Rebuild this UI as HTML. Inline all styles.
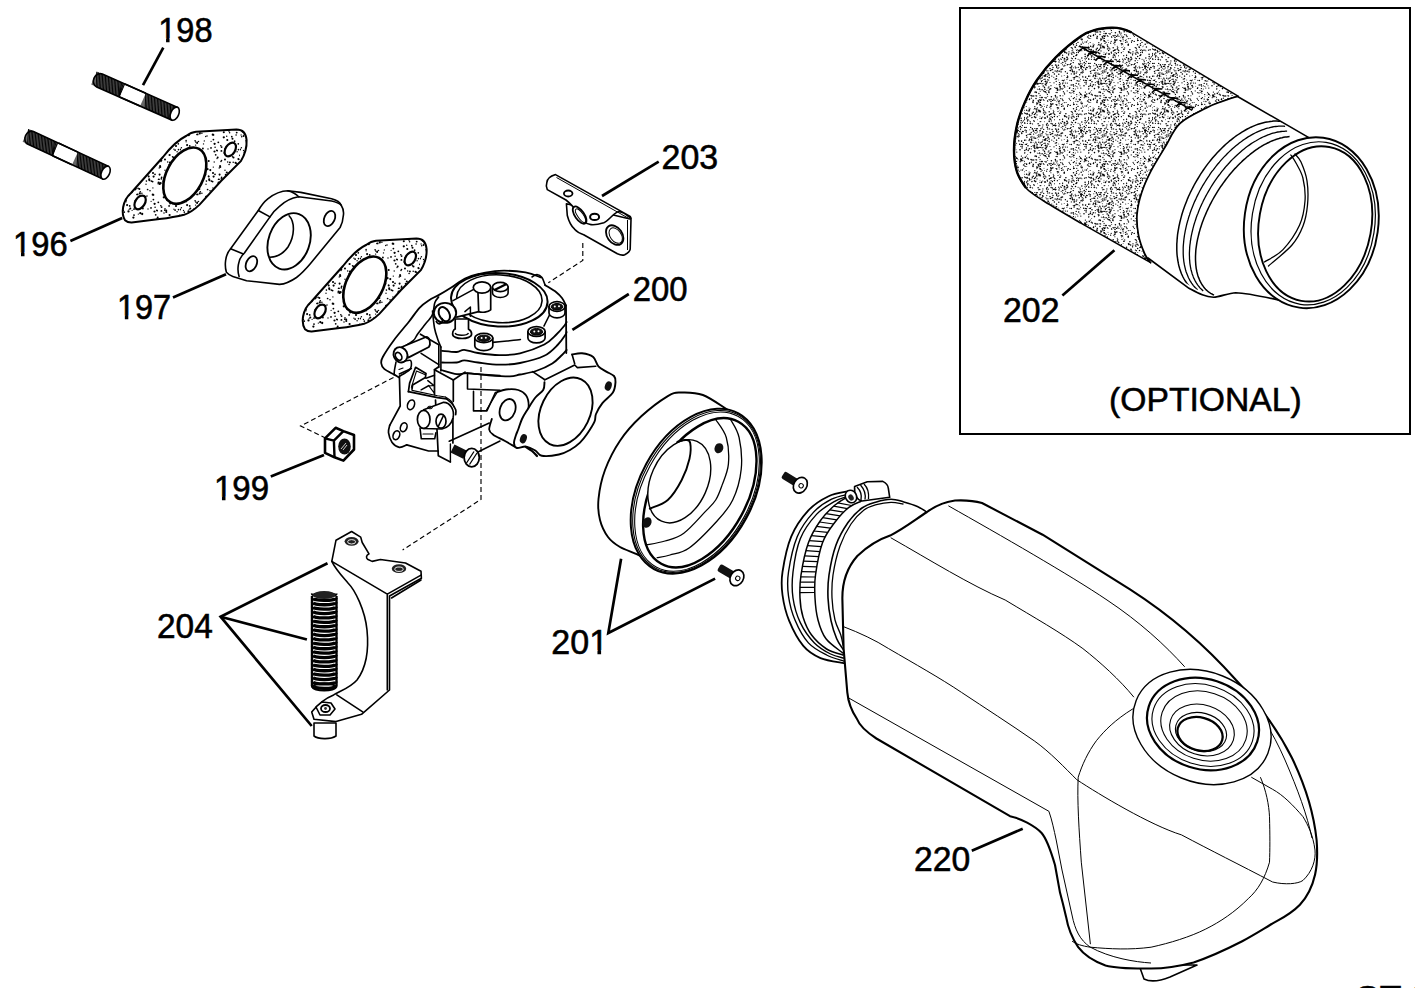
<!DOCTYPE html>
<html><head><meta charset="utf-8"><style>
html,body{margin:0;padding:0;background:#fff;width:1415px;height:988px;overflow:hidden}
svg{position:absolute;left:0;top:0}
.lb{font-family:"Liberation Sans",sans-serif;font-size:35.5px;fill:#000;stroke:#000;stroke-width:0.6}
.ld{fill:none;stroke:#000;stroke-width:2.7}
.k{fill:none;stroke:#000;stroke-width:1.6;stroke-linejoin:round;stroke-linecap:round}
.t{fill:none;stroke:#000;stroke-width:1;stroke-linejoin:round}
.w{fill:#fff;stroke:#000;stroke-width:1.6;stroke-linejoin:round}
.st{fill:url(#stip);stroke:#000;stroke-width:2}
.dash{fill:none;stroke:#000;stroke-width:1.15;stroke-dasharray:5 3}
</style></head><body>
<svg width="1415" height="988" viewBox="0 0 1415 988">
<defs><pattern id="stip" width="60" height="60" patternUnits="userSpaceOnUse"><rect width="60" height="60" fill="#fff"/><g fill="#000"><circle cx="19.4" cy="9.1" r="0.98"/><circle cx="4.3" cy="32.2" r="0.83"/><circle cx="3.5" cy="30.4" r="0.67"/><circle cx="26.0" cy="4.2" r="0.70"/><circle cx="25.5" cy="49.6" r="0.71"/><circle cx="13.4" cy="37.6" r="1.12"/><circle cx="34.6" cy="23.8" r="1.14"/><circle cx="2.8" cy="51.5" r="0.79"/><circle cx="8.7" cy="7.1" r="0.80"/><circle cx="49.0" cy="10.8" r="0.94"/><circle cx="38.3" cy="22.3" r="0.92"/><circle cx="3.8" cy="3.6" r="0.75"/><circle cx="40.8" cy="25.7" r="0.81"/><circle cx="35.1" cy="27.2" r="0.80"/><circle cx="47.7" cy="41.9" r="0.77"/><circle cx="34.5" cy="31.5" r="1.09"/><circle cx="43.8" cy="17.3" r="1.14"/><circle cx="7.1" cy="25.1" r="1.03"/><circle cx="9.1" cy="29.3" r="0.67"/><circle cx="40.1" cy="45.9" r="0.94"/><circle cx="52.5" cy="18.8" r="1.00"/><circle cx="35.7" cy="34.8" r="0.88"/><circle cx="50.4" cy="56.7" r="0.89"/><circle cx="39.8" cy="3.6" r="1.00"/><circle cx="38.8" cy="59.6" r="1.06"/><circle cx="17.1" cy="23.1" r="0.98"/><circle cx="1.4" cy="27.7" r="0.73"/><circle cx="7.0" cy="3.5" r="1.03"/><circle cx="7.8" cy="14.9" r="0.85"/><circle cx="52.3" cy="4.8" r="0.87"/><circle cx="33.0" cy="53.0" r="1.06"/><circle cx="51.8" cy="16.7" r="0.86"/><circle cx="21.5" cy="53.1" r="1.13"/><circle cx="9.1" cy="10.6" r="0.77"/><circle cx="14.0" cy="29.1" r="0.94"/><circle cx="15.8" cy="0.2" r="0.86"/><circle cx="22.2" cy="34.0" r="1.13"/><circle cx="41.4" cy="30.9" r="0.96"/><circle cx="40.6" cy="3.2" r="1.10"/><circle cx="46.8" cy="52.5" r="1.05"/><circle cx="23.5" cy="23.9" r="0.70"/><circle cx="38.1" cy="3.7" r="0.68"/><circle cx="12.5" cy="9.7" r="0.82"/><circle cx="3.2" cy="0.0" r="0.73"/><circle cx="6.1" cy="21.8" r="0.66"/><circle cx="52.5" cy="36.8" r="0.72"/><circle cx="15.1" cy="20.8" r="0.83"/><circle cx="7.4" cy="50.9" r="1.15"/><circle cx="28.0" cy="29.0" r="0.69"/><circle cx="6.1" cy="20.6" r="0.78"/><circle cx="49.7" cy="9.7" r="0.66"/><circle cx="57.1" cy="31.7" r="0.72"/><circle cx="32.6" cy="1.6" r="0.91"/><circle cx="58.7" cy="51.8" r="1.00"/><circle cx="15.7" cy="22.0" r="0.73"/><circle cx="46.3" cy="32.0" r="1.04"/><circle cx="19.8" cy="13.4" r="1.06"/><circle cx="59.1" cy="51.2" r="1.05"/><circle cx="49.1" cy="44.4" r="0.76"/><circle cx="31.1" cy="21.3" r="0.66"/><circle cx="1.7" cy="16.8" r="0.78"/><circle cx="41.6" cy="57.4" r="0.87"/><circle cx="56.2" cy="59.3" r="1.13"/><circle cx="21.9" cy="13.2" r="0.76"/><circle cx="11.8" cy="12.3" r="0.96"/><circle cx="54.0" cy="50.4" r="0.89"/><circle cx="39.2" cy="48.0" r="0.69"/><circle cx="39.6" cy="54.6" r="1.04"/><circle cx="45.0" cy="28.7" r="0.74"/><circle cx="47.3" cy="20.0" r="1.05"/><circle cx="58.3" cy="23.8" r="0.85"/><circle cx="56.8" cy="43.5" r="0.74"/><circle cx="7.6" cy="9.1" r="1.10"/><circle cx="48.4" cy="8.8" r="1.06"/><circle cx="58.8" cy="39.4" r="0.83"/><circle cx="32.9" cy="7.9" r="0.66"/><circle cx="58.3" cy="39.0" r="0.91"/><circle cx="56.0" cy="26.0" r="1.09"/><circle cx="49.6" cy="12.7" r="0.78"/><circle cx="17.6" cy="14.4" r="0.94"/><circle cx="15.6" cy="25.1" r="0.72"/><circle cx="54.6" cy="21.2" r="0.88"/><circle cx="35.0" cy="54.3" r="0.86"/><circle cx="55.1" cy="30.1" r="0.92"/><circle cx="31.4" cy="1.1" r="0.87"/><circle cx="11.0" cy="0.2" r="1.05"/><circle cx="10.3" cy="28.4" r="1.01"/><circle cx="33.4" cy="19.6" r="0.91"/><circle cx="33.3" cy="47.1" r="0.70"/><circle cx="33.6" cy="14.9" r="0.79"/><circle cx="46.3" cy="30.5" r="0.93"/><circle cx="45.6" cy="54.7" r="0.87"/><circle cx="36.8" cy="30.3" r="0.91"/><circle cx="41.6" cy="27.1" r="0.92"/><circle cx="28.7" cy="56.5" r="1.00"/><circle cx="52.6" cy="56.5" r="0.78"/><circle cx="33.6" cy="56.6" r="1.07"/><circle cx="8.2" cy="7.3" r="0.87"/><circle cx="4.4" cy="14.4" r="0.69"/><circle cx="40.2" cy="47.0" r="1.10"/><circle cx="9.3" cy="43.0" r="0.98"/><circle cx="8.6" cy="53.0" r="1.13"/><circle cx="13.2" cy="57.2" r="0.85"/><circle cx="29.2" cy="59.4" r="1.07"/><circle cx="9.7" cy="25.9" r="0.91"/><circle cx="20.3" cy="11.7" r="0.81"/><circle cx="43.3" cy="1.2" r="0.93"/><circle cx="26.4" cy="1.1" r="0.82"/><circle cx="37.4" cy="30.7" r="0.68"/><circle cx="59.1" cy="47.3" r="1.14"/><circle cx="6.3" cy="15.9" r="0.67"/><circle cx="46.7" cy="16.2" r="0.71"/><circle cx="25.3" cy="54.7" r="1.06"/><circle cx="15.5" cy="9.0" r="1.11"/><circle cx="34.2" cy="42.0" r="0.69"/><circle cx="3.5" cy="41.3" r="0.86"/><circle cx="4.3" cy="56.3" r="0.97"/><circle cx="48.1" cy="5.0" r="1.08"/><circle cx="4.0" cy="51.8" r="0.88"/><circle cx="20.3" cy="33.2" r="1.11"/><circle cx="16.1" cy="7.8" r="0.91"/><circle cx="14.3" cy="6.6" r="0.73"/><circle cx="3.0" cy="12.1" r="0.81"/><circle cx="18.3" cy="45.6" r="0.79"/><circle cx="30.0" cy="10.7" r="0.82"/><circle cx="1.1" cy="15.0" r="0.66"/><circle cx="44.0" cy="33.1" r="0.74"/><circle cx="28.5" cy="56.1" r="0.70"/><circle cx="49.1" cy="25.9" r="0.90"/><circle cx="50.1" cy="23.6" r="0.90"/><circle cx="41.3" cy="58.9" r="0.82"/><circle cx="49.9" cy="42.4" r="0.97"/><circle cx="24.3" cy="20.9" r="0.68"/><circle cx="7.8" cy="4.2" r="1.02"/><circle cx="15.3" cy="9.8" r="0.69"/><circle cx="50.5" cy="52.2" r="0.99"/><circle cx="16.9" cy="14.5" r="0.80"/><circle cx="27.6" cy="9.5" r="0.87"/><circle cx="15.8" cy="57.7" r="1.14"/><circle cx="32.8" cy="14.7" r="1.13"/><circle cx="18.6" cy="21.4" r="0.65"/><circle cx="22.9" cy="28.5" r="0.90"/><circle cx="12.1" cy="30.3" r="0.65"/><circle cx="15.9" cy="5.4" r="0.85"/><circle cx="2.5" cy="1.3" r="0.80"/><circle cx="14.0" cy="35.1" r="0.91"/><circle cx="45.0" cy="39.5" r="1.01"/><circle cx="52.7" cy="23.4" r="0.81"/><circle cx="59.1" cy="9.0" r="1.01"/><circle cx="38.6" cy="2.6" r="1.07"/><circle cx="53.5" cy="37.6" r="1.02"/><circle cx="48.7" cy="8.4" r="0.91"/><circle cx="30.3" cy="50.1" r="1.05"/><circle cx="49.6" cy="35.0" r="1.10"/><circle cx="41.0" cy="41.6" r="0.76"/><circle cx="1.9" cy="8.0" r="0.83"/><circle cx="6.3" cy="50.1" r="0.93"/><circle cx="37.7" cy="37.6" r="0.99"/><circle cx="29.4" cy="0.2" r="1.05"/><circle cx="44.9" cy="30.2" r="0.92"/><circle cx="39.6" cy="4.0" r="1.02"/><circle cx="15.1" cy="4.5" r="0.78"/><circle cx="43.8" cy="12.3" r="1.02"/><circle cx="58.5" cy="29.6" r="0.84"/><circle cx="28.7" cy="41.0" r="1.03"/><circle cx="37.0" cy="38.6" r="0.69"/><circle cx="8.8" cy="15.2" r="1.02"/><circle cx="18.3" cy="34.1" r="0.66"/><circle cx="3.6" cy="16.1" r="0.99"/><circle cx="41.5" cy="40.5" r="0.80"/><circle cx="31.0" cy="27.9" r="0.88"/><circle cx="7.1" cy="53.6" r="0.75"/><circle cx="58.7" cy="56.2" r="0.66"/><circle cx="27.5" cy="49.2" r="1.13"/><circle cx="27.0" cy="16.1" r="0.75"/><circle cx="56.7" cy="12.6" r="0.94"/><circle cx="8.5" cy="31.4" r="1.13"/><circle cx="8.0" cy="49.2" r="0.90"/><circle cx="53.2" cy="42.2" r="0.77"/><circle cx="53.9" cy="29.2" r="0.66"/><circle cx="0.2" cy="29.5" r="0.88"/><circle cx="18.1" cy="8.4" r="0.82"/><circle cx="19.0" cy="50.4" r="0.65"/><circle cx="45.0" cy="50.3" r="0.71"/><circle cx="55.6" cy="42.8" r="1.10"/><circle cx="17.4" cy="22.3" r="0.85"/><circle cx="59.9" cy="35.4" r="0.83"/><circle cx="25.7" cy="16.5" r="0.67"/><circle cx="6.1" cy="50.1" r="0.79"/><circle cx="56.1" cy="15.0" r="0.78"/></g></pattern><pattern id="foam" width="64" height="64" patternUnits="userSpaceOnUse"><rect width="64" height="64" fill="#fff"/><g fill="#000"><circle cx="32.7" cy="12.2" r="0.58"/><circle cx="61.2" cy="56.6" r="0.73"/><circle cx="40.4" cy="58.5" r="0.78"/><circle cx="35.2" cy="46.1" r="0.47"/><circle cx="46.9" cy="28.9" r="0.71"/><circle cx="41.2" cy="18.3" r="0.47"/><circle cx="59.3" cy="8.1" r="0.62"/><circle cx="22.0" cy="19.1" r="0.71"/><circle cx="62.5" cy="16.7" r="0.68"/><circle cx="19.3" cy="35.7" r="0.59"/><circle cx="10.7" cy="10.3" r="0.52"/><circle cx="58.0" cy="31.8" r="0.53"/><circle cx="58.0" cy="63.8" r="0.61"/><circle cx="8.9" cy="12.3" r="0.48"/><circle cx="21.9" cy="5.8" r="0.53"/><circle cx="16.5" cy="36.5" r="0.76"/><circle cx="48.0" cy="26.4" r="0.59"/><circle cx="33.5" cy="24.1" r="0.57"/><circle cx="4.0" cy="17.8" r="0.79"/><circle cx="8.1" cy="32.2" r="0.67"/><circle cx="55.2" cy="13.8" r="0.54"/><circle cx="15.9" cy="25.6" r="0.61"/><circle cx="61.1" cy="54.3" r="0.76"/><circle cx="1.4" cy="2.1" r="0.70"/><circle cx="57.3" cy="30.3" r="0.66"/><circle cx="0.0" cy="25.1" r="0.77"/><circle cx="52.8" cy="54.7" r="0.79"/><circle cx="15.9" cy="7.0" r="0.50"/><circle cx="33.4" cy="43.7" r="0.78"/><circle cx="46.2" cy="41.4" r="0.72"/><circle cx="29.3" cy="35.3" r="0.46"/><circle cx="50.1" cy="14.9" r="0.77"/><circle cx="41.3" cy="19.4" r="0.49"/><circle cx="16.1" cy="40.7" r="0.69"/><circle cx="7.2" cy="4.5" r="0.63"/><circle cx="37.3" cy="24.8" r="0.53"/><circle cx="38.5" cy="0.7" r="0.56"/><circle cx="29.5" cy="61.4" r="0.68"/><circle cx="56.6" cy="30.4" r="0.53"/><circle cx="15.8" cy="61.5" r="0.70"/><circle cx="19.7" cy="1.4" r="0.62"/><circle cx="43.2" cy="26.9" r="0.54"/><circle cx="42.7" cy="59.2" r="0.53"/><circle cx="2.2" cy="21.6" r="0.60"/><circle cx="43.7" cy="12.7" r="0.73"/><circle cx="47.3" cy="32.3" r="0.52"/><circle cx="62.1" cy="19.9" r="0.74"/><circle cx="14.8" cy="14.2" r="0.72"/><circle cx="18.9" cy="60.9" r="0.62"/><circle cx="12.0" cy="14.3" r="0.60"/><circle cx="42.6" cy="60.7" r="0.50"/><circle cx="25.2" cy="13.6" r="0.79"/><circle cx="9.1" cy="3.3" r="0.47"/><circle cx="25.2" cy="57.5" r="0.76"/><circle cx="46.9" cy="63.8" r="0.78"/><circle cx="21.1" cy="11.9" r="0.78"/><circle cx="47.8" cy="2.0" r="0.68"/><circle cx="24.2" cy="23.9" r="0.57"/><circle cx="10.8" cy="0.2" r="0.55"/><circle cx="22.5" cy="61.2" r="0.49"/><circle cx="61.7" cy="13.3" r="0.57"/><circle cx="52.6" cy="52.6" r="0.60"/><circle cx="3.2" cy="30.3" r="0.58"/><circle cx="58.8" cy="12.4" r="0.58"/><circle cx="57.4" cy="1.9" r="0.59"/><circle cx="52.0" cy="49.1" r="0.46"/><circle cx="2.2" cy="4.0" r="0.77"/><circle cx="16.4" cy="47.8" r="0.76"/><circle cx="21.7" cy="17.4" r="0.79"/><circle cx="39.5" cy="16.8" r="0.70"/><circle cx="20.3" cy="17.6" r="0.45"/><circle cx="48.4" cy="58.7" r="0.67"/><circle cx="60.4" cy="1.6" r="0.53"/><circle cx="30.4" cy="61.2" r="0.78"/><circle cx="24.7" cy="16.1" r="0.60"/><circle cx="31.6" cy="59.4" r="0.51"/><circle cx="51.4" cy="47.3" r="0.74"/><circle cx="49.5" cy="38.9" r="0.56"/><circle cx="20.5" cy="23.2" r="0.72"/><circle cx="5.1" cy="12.6" r="0.71"/><circle cx="15.8" cy="4.1" r="0.46"/><circle cx="35.4" cy="20.8" r="0.79"/><circle cx="56.5" cy="63.2" r="0.54"/><circle cx="5.4" cy="6.2" r="0.62"/><circle cx="45.4" cy="28.6" r="0.53"/><circle cx="26.7" cy="39.7" r="0.69"/><circle cx="47.9" cy="54.2" r="0.68"/><circle cx="7.8" cy="53.8" r="0.55"/><circle cx="36.3" cy="23.9" r="0.71"/><circle cx="12.7" cy="15.8" r="0.54"/><circle cx="9.8" cy="56.6" r="0.65"/><circle cx="20.9" cy="25.3" r="0.80"/><circle cx="32.5" cy="14.8" r="0.73"/><circle cx="41.8" cy="63.4" r="0.49"/><circle cx="30.4" cy="52.4" r="0.74"/><circle cx="58.5" cy="2.6" r="0.55"/><circle cx="7.6" cy="12.1" r="0.79"/><circle cx="37.3" cy="59.5" r="0.58"/><circle cx="55.4" cy="28.7" r="0.54"/><circle cx="49.8" cy="60.5" r="0.49"/><circle cx="38.2" cy="39.7" r="0.53"/><circle cx="23.6" cy="9.0" r="0.52"/><circle cx="16.3" cy="38.4" r="0.68"/><circle cx="13.0" cy="0.7" r="0.56"/><circle cx="43.4" cy="11.8" r="0.56"/><circle cx="13.0" cy="50.9" r="0.64"/><circle cx="4.0" cy="6.5" r="0.59"/><circle cx="35.2" cy="40.9" r="0.48"/><circle cx="10.5" cy="44.5" r="0.59"/><circle cx="18.1" cy="19.7" r="0.78"/><circle cx="20.0" cy="36.3" r="0.58"/><circle cx="26.7" cy="55.3" r="0.80"/><circle cx="23.3" cy="12.6" r="0.70"/><circle cx="13.0" cy="0.4" r="0.77"/><circle cx="27.1" cy="52.5" r="0.59"/><circle cx="56.5" cy="29.5" r="0.51"/><circle cx="0.9" cy="35.3" r="0.67"/><circle cx="58.2" cy="5.7" r="0.67"/><circle cx="23.7" cy="32.3" r="0.50"/><circle cx="18.1" cy="33.4" r="0.77"/><circle cx="7.0" cy="31.4" r="0.73"/><circle cx="61.9" cy="12.6" r="0.49"/><circle cx="60.4" cy="62.4" r="0.62"/><circle cx="3.4" cy="59.3" r="0.59"/><circle cx="57.9" cy="39.7" r="0.74"/><circle cx="10.3" cy="50.3" r="0.53"/><circle cx="25.9" cy="54.2" r="0.74"/><circle cx="11.7" cy="14.0" r="0.59"/><circle cx="33.1" cy="24.5" r="0.49"/><circle cx="15.8" cy="46.4" r="0.76"/><circle cx="2.6" cy="36.0" r="0.72"/><circle cx="2.4" cy="53.6" r="0.49"/><circle cx="38.4" cy="35.2" r="0.67"/><circle cx="19.6" cy="26.9" r="0.65"/><circle cx="27.2" cy="42.2" r="0.61"/><circle cx="28.1" cy="1.5" r="0.67"/><circle cx="31.3" cy="15.1" r="0.72"/><circle cx="49.9" cy="29.3" r="0.51"/><circle cx="30.3" cy="6.9" r="0.49"/><circle cx="27.6" cy="5.9" r="0.60"/><circle cx="32.7" cy="2.6" r="0.67"/><circle cx="5.3" cy="46.9" r="0.72"/><circle cx="32.7" cy="3.5" r="0.63"/><circle cx="24.2" cy="60.9" r="0.50"/><circle cx="54.9" cy="63.8" r="0.71"/><circle cx="52.2" cy="12.4" r="0.79"/><circle cx="31.5" cy="61.2" r="0.77"/><circle cx="10.6" cy="50.5" r="0.78"/><circle cx="4.2" cy="22.5" r="0.71"/><circle cx="10.2" cy="57.4" r="0.55"/><circle cx="52.2" cy="9.2" r="0.63"/><circle cx="58.9" cy="13.3" r="0.54"/><circle cx="32.4" cy="20.4" r="0.46"/><circle cx="11.7" cy="10.3" r="0.78"/><circle cx="43.5" cy="57.3" r="0.51"/><circle cx="50.2" cy="7.4" r="0.64"/><circle cx="40.7" cy="23.0" r="0.76"/><circle cx="35.5" cy="37.1" r="0.76"/><circle cx="6.7" cy="63.5" r="0.67"/><circle cx="25.2" cy="51.1" r="0.54"/><circle cx="63.4" cy="37.0" r="0.58"/><circle cx="48.9" cy="28.3" r="0.51"/><circle cx="47.6" cy="3.1" r="0.74"/><circle cx="16.2" cy="40.9" r="0.79"/><circle cx="37.5" cy="42.5" r="0.56"/><circle cx="0.1" cy="2.2" r="0.50"/><circle cx="39.4" cy="27.7" r="0.63"/><circle cx="57.3" cy="8.4" r="0.53"/><circle cx="41.8" cy="1.4" r="0.45"/><circle cx="22.7" cy="6.8" r="0.58"/><circle cx="14.4" cy="37.3" r="0.66"/><circle cx="13.1" cy="39.9" r="0.62"/><circle cx="8.6" cy="59.9" r="0.54"/><circle cx="9.6" cy="6.1" r="0.67"/><circle cx="55.8" cy="50.1" r="0.59"/><circle cx="16.9" cy="0.7" r="0.68"/><circle cx="36.0" cy="22.4" r="0.68"/><circle cx="28.4" cy="60.0" r="0.71"/><circle cx="15.9" cy="57.8" r="0.47"/><circle cx="34.0" cy="26.0" r="0.53"/><circle cx="3.7" cy="49.8" r="0.45"/><circle cx="35.3" cy="60.2" r="0.50"/><circle cx="12.8" cy="38.9" r="0.63"/><circle cx="41.1" cy="52.1" r="0.51"/><circle cx="19.8" cy="19.2" r="0.47"/><circle cx="56.9" cy="50.1" r="0.70"/><circle cx="0.4" cy="54.0" r="0.71"/><circle cx="29.8" cy="47.5" r="0.61"/><circle cx="14.5" cy="6.7" r="0.53"/><circle cx="2.5" cy="21.5" r="0.71"/><circle cx="44.5" cy="54.1" r="0.70"/><circle cx="17.0" cy="35.4" r="0.60"/><circle cx="50.5" cy="33.5" r="0.54"/><circle cx="41.1" cy="61.8" r="0.53"/><circle cx="56.3" cy="1.0" r="0.54"/><circle cx="15.1" cy="47.6" r="0.78"/><circle cx="47.8" cy="20.9" r="0.76"/><circle cx="21.0" cy="15.3" r="0.77"/><circle cx="40.4" cy="44.3" r="0.68"/><circle cx="62.7" cy="30.0" r="0.74"/><circle cx="44.6" cy="54.9" r="0.60"/><circle cx="46.4" cy="36.5" r="0.56"/><circle cx="13.6" cy="39.8" r="0.48"/><circle cx="58.3" cy="9.3" r="0.46"/><circle cx="6.8" cy="59.5" r="0.57"/><circle cx="9.1" cy="1.8" r="0.46"/><circle cx="44.3" cy="40.6" r="0.69"/><circle cx="47.2" cy="4.2" r="0.66"/><circle cx="23.3" cy="52.3" r="0.74"/><circle cx="57.0" cy="4.2" r="0.75"/><circle cx="58.5" cy="60.4" r="0.49"/><circle cx="13.2" cy="7.2" r="0.46"/><circle cx="54.3" cy="52.0" r="0.67"/><circle cx="52.8" cy="40.4" r="0.55"/><circle cx="6.4" cy="6.3" r="0.72"/><circle cx="13.1" cy="20.4" r="0.60"/><circle cx="1.3" cy="16.4" r="0.55"/><circle cx="45.8" cy="23.6" r="0.56"/><circle cx="61.7" cy="32.2" r="0.75"/><circle cx="39.6" cy="2.0" r="0.59"/><circle cx="27.9" cy="49.5" r="0.57"/><circle cx="45.1" cy="34.4" r="0.53"/><circle cx="55.2" cy="5.8" r="0.74"/><circle cx="10.9" cy="0.1" r="0.52"/><circle cx="48.8" cy="62.6" r="0.45"/><circle cx="31.4" cy="31.5" r="0.73"/><circle cx="11.8" cy="31.7" r="0.57"/><circle cx="53.2" cy="16.7" r="0.78"/><circle cx="18.2" cy="13.7" r="0.69"/><circle cx="31.9" cy="7.0" r="0.67"/><circle cx="5.2" cy="50.4" r="0.69"/><circle cx="50.4" cy="40.2" r="0.57"/><circle cx="25.7" cy="25.3" r="0.76"/><circle cx="5.5" cy="56.9" r="0.46"/><circle cx="13.2" cy="16.8" r="0.77"/><circle cx="32.1" cy="24.3" r="0.76"/><circle cx="14.9" cy="29.5" r="0.64"/><circle cx="48.3" cy="48.2" r="0.68"/><circle cx="22.3" cy="20.9" r="0.50"/><circle cx="54.0" cy="42.4" r="0.71"/><circle cx="10.9" cy="28.1" r="0.72"/><circle cx="37.1" cy="8.1" r="0.61"/><circle cx="56.6" cy="15.2" r="0.52"/><circle cx="19.3" cy="45.0" r="0.75"/><circle cx="9.9" cy="10.0" r="0.54"/><circle cx="20.9" cy="33.4" r="0.51"/><circle cx="21.0" cy="12.1" r="0.79"/><circle cx="46.6" cy="6.5" r="0.79"/><circle cx="6.5" cy="24.6" r="0.79"/><circle cx="50.9" cy="46.9" r="0.60"/><circle cx="12.6" cy="40.8" r="0.49"/><circle cx="13.2" cy="24.9" r="0.46"/><circle cx="25.5" cy="50.6" r="0.69"/><circle cx="32.0" cy="40.5" r="0.61"/><circle cx="9.1" cy="38.6" r="0.59"/><circle cx="47.4" cy="58.1" r="0.60"/><circle cx="36.7" cy="47.9" r="0.60"/><circle cx="14.6" cy="46.2" r="0.76"/><circle cx="49.5" cy="44.8" r="0.75"/><circle cx="43.5" cy="41.1" r="0.61"/><circle cx="20.0" cy="40.2" r="0.48"/><circle cx="26.9" cy="50.1" r="0.70"/><circle cx="40.3" cy="16.0" r="0.60"/><circle cx="29.1" cy="39.8" r="0.59"/><circle cx="43.2" cy="59.5" r="0.51"/><circle cx="41.9" cy="49.8" r="0.59"/><circle cx="31.3" cy="62.4" r="0.46"/><circle cx="34.8" cy="10.3" r="0.72"/><circle cx="60.2" cy="33.2" r="0.49"/><circle cx="36.8" cy="34.6" r="0.70"/><circle cx="32.8" cy="40.9" r="0.74"/><circle cx="33.4" cy="26.3" r="0.78"/><circle cx="13.4" cy="43.8" r="0.59"/><circle cx="48.8" cy="7.8" r="0.79"/><circle cx="22.8" cy="3.6" r="0.55"/><circle cx="25.6" cy="0.9" r="0.60"/><circle cx="26.9" cy="44.7" r="0.57"/><circle cx="17.0" cy="14.4" r="0.71"/><circle cx="60.2" cy="33.7" r="0.53"/><circle cx="51.3" cy="25.1" r="0.52"/><circle cx="8.3" cy="49.7" r="0.73"/><circle cx="40.6" cy="30.0" r="0.65"/><circle cx="14.5" cy="61.7" r="0.57"/><circle cx="40.9" cy="52.4" r="0.74"/><circle cx="30.0" cy="18.8" r="0.64"/><circle cx="8.0" cy="53.4" r="0.57"/><circle cx="54.4" cy="17.1" r="0.58"/><circle cx="16.2" cy="27.3" r="0.52"/><circle cx="0.2" cy="46.2" r="0.55"/><circle cx="15.7" cy="19.3" r="0.62"/><circle cx="27.4" cy="40.8" r="0.68"/><circle cx="23.2" cy="59.4" r="0.75"/><circle cx="3.7" cy="53.0" r="0.77"/><circle cx="50.2" cy="9.0" r="0.74"/><circle cx="40.5" cy="1.0" r="0.45"/><circle cx="60.9" cy="42.0" r="0.54"/><circle cx="6.5" cy="9.1" r="0.53"/><circle cx="49.7" cy="22.2" r="0.50"/><circle cx="57.9" cy="50.7" r="0.51"/><circle cx="57.0" cy="38.9" r="0.72"/><circle cx="42.8" cy="57.2" r="0.73"/><circle cx="53.7" cy="12.6" r="0.69"/><circle cx="34.0" cy="47.5" r="0.60"/><circle cx="56.5" cy="35.5" r="0.54"/><circle cx="15.0" cy="8.9" r="0.62"/><circle cx="3.7" cy="29.9" r="0.50"/><circle cx="31.4" cy="31.9" r="0.64"/><circle cx="55.2" cy="0.4" r="0.74"/><circle cx="29.9" cy="36.0" r="0.68"/><circle cx="53.8" cy="24.0" r="0.60"/><circle cx="61.5" cy="4.8" r="0.67"/><circle cx="40.7" cy="1.8" r="0.66"/><circle cx="43.7" cy="59.6" r="0.57"/><circle cx="62.8" cy="32.7" r="0.62"/><circle cx="57.4" cy="2.2" r="0.70"/><circle cx="40.0" cy="21.7" r="0.75"/><circle cx="23.4" cy="30.4" r="0.63"/><circle cx="49.3" cy="13.5" r="0.60"/><circle cx="27.0" cy="35.5" r="0.74"/><circle cx="18.7" cy="53.0" r="0.59"/><circle cx="32.2" cy="17.4" r="0.63"/><circle cx="62.4" cy="41.9" r="0.73"/><circle cx="21.2" cy="20.3" r="0.55"/><circle cx="37.5" cy="40.6" r="0.72"/><circle cx="2.6" cy="46.3" r="0.76"/><circle cx="34.9" cy="3.2" r="0.56"/><circle cx="0.4" cy="12.2" r="0.77"/><circle cx="39.0" cy="42.1" r="0.73"/><circle cx="58.2" cy="39.2" r="0.67"/><circle cx="40.1" cy="44.6" r="0.66"/><circle cx="43.6" cy="13.6" r="0.68"/><circle cx="29.3" cy="48.8" r="0.49"/><circle cx="11.6" cy="2.4" r="0.72"/><circle cx="58.5" cy="42.0" r="0.58"/><circle cx="52.6" cy="50.3" r="0.65"/><circle cx="16.5" cy="19.3" r="0.60"/><circle cx="20.4" cy="27.6" r="0.67"/><circle cx="59.8" cy="3.5" r="0.65"/><circle cx="2.5" cy="7.6" r="0.73"/><circle cx="36.8" cy="58.8" r="0.61"/><circle cx="0.9" cy="24.8" r="0.66"/><circle cx="60.0" cy="62.8" r="0.62"/><circle cx="26.4" cy="6.5" r="0.68"/><circle cx="13.6" cy="9.7" r="0.46"/><circle cx="0.3" cy="43.8" r="0.49"/><circle cx="61.8" cy="5.6" r="0.75"/><circle cx="8.3" cy="1.1" r="0.70"/><circle cx="15.5" cy="46.9" r="0.52"/><circle cx="3.2" cy="49.5" r="0.70"/><circle cx="54.8" cy="46.7" r="0.48"/><circle cx="40.2" cy="45.4" r="0.61"/><circle cx="59.7" cy="16.3" r="0.79"/><circle cx="45.9" cy="0.7" r="0.46"/><circle cx="41.6" cy="52.3" r="0.48"/><circle cx="19.9" cy="46.7" r="0.51"/><circle cx="55.1" cy="31.1" r="0.47"/><circle cx="23.5" cy="36.8" r="0.60"/><circle cx="43.3" cy="9.3" r="0.73"/><circle cx="23.2" cy="41.3" r="0.67"/><circle cx="26.7" cy="24.7" r="0.73"/><circle cx="60.5" cy="50.2" r="0.65"/><circle cx="18.7" cy="3.9" r="0.79"/><circle cx="45.0" cy="53.0" r="0.57"/><circle cx="38.8" cy="62.6" r="0.74"/><circle cx="38.5" cy="19.8" r="0.60"/><circle cx="56.8" cy="24.1" r="0.69"/><circle cx="38.5" cy="57.4" r="0.73"/><circle cx="18.1" cy="0.1" r="0.54"/><circle cx="27.0" cy="37.5" r="0.74"/><circle cx="56.8" cy="2.7" r="0.74"/><circle cx="52.0" cy="55.5" r="0.65"/><circle cx="17.5" cy="54.5" r="0.73"/><circle cx="43.8" cy="58.5" r="0.57"/><circle cx="5.4" cy="35.4" r="0.73"/><circle cx="12.8" cy="48.0" r="0.78"/><circle cx="15.0" cy="38.8" r="0.69"/><circle cx="29.8" cy="13.2" r="0.54"/><circle cx="48.1" cy="50.7" r="0.61"/><circle cx="5.6" cy="51.6" r="0.72"/><circle cx="14.9" cy="37.1" r="0.76"/><circle cx="56.6" cy="33.4" r="0.62"/><circle cx="37.7" cy="12.1" r="0.52"/><circle cx="11.6" cy="44.9" r="0.58"/><circle cx="36.1" cy="25.8" r="0.63"/><circle cx="9.5" cy="2.9" r="0.80"/><circle cx="23.9" cy="6.8" r="0.67"/><circle cx="50.4" cy="10.0" r="0.66"/><circle cx="22.1" cy="33.2" r="0.46"/><circle cx="2.1" cy="63.4" r="0.75"/><circle cx="31.1" cy="36.3" r="0.54"/><circle cx="49.9" cy="27.3" r="0.78"/><circle cx="49.1" cy="52.4" r="0.79"/><circle cx="16.3" cy="2.4" r="0.52"/><circle cx="11.6" cy="5.4" r="0.47"/><circle cx="35.7" cy="55.7" r="0.61"/><circle cx="60.6" cy="58.2" r="0.47"/><circle cx="38.3" cy="25.4" r="0.49"/><circle cx="61.4" cy="16.5" r="0.65"/><circle cx="41.0" cy="61.2" r="0.68"/><circle cx="25.2" cy="28.7" r="0.51"/><circle cx="61.8" cy="63.5" r="0.53"/><circle cx="2.5" cy="16.4" r="0.57"/><circle cx="57.8" cy="57.9" r="0.74"/><circle cx="3.0" cy="50.3" r="0.70"/><circle cx="41.4" cy="63.1" r="0.47"/><circle cx="9.3" cy="48.3" r="0.78"/><circle cx="43.3" cy="19.1" r="0.66"/><circle cx="48.5" cy="6.7" r="0.56"/><circle cx="16.4" cy="7.9" r="0.62"/><circle cx="10.8" cy="15.3" r="0.50"/><circle cx="43.4" cy="0.8" r="0.70"/><circle cx="12.5" cy="2.3" r="0.77"/><circle cx="14.1" cy="59.8" r="0.75"/><circle cx="56.9" cy="8.9" r="0.61"/><circle cx="6.2" cy="59.4" r="0.74"/><circle cx="40.2" cy="28.9" r="0.57"/><circle cx="52.7" cy="30.6" r="0.67"/><circle cx="9.1" cy="14.2" r="0.47"/><circle cx="45.7" cy="35.4" r="0.50"/><circle cx="55.7" cy="17.0" r="0.59"/><circle cx="10.0" cy="17.4" r="0.74"/><circle cx="21.4" cy="10.7" r="0.62"/><circle cx="20.4" cy="57.8" r="0.49"/><circle cx="62.6" cy="3.6" r="0.76"/><circle cx="42.8" cy="13.5" r="0.62"/><circle cx="18.3" cy="16.5" r="0.52"/><circle cx="23.3" cy="63.4" r="0.80"/><circle cx="59.2" cy="6.2" r="0.55"/><circle cx="57.4" cy="3.7" r="0.70"/><circle cx="18.8" cy="62.6" r="0.46"/><circle cx="51.6" cy="21.8" r="0.50"/><circle cx="0.1" cy="53.3" r="0.63"/><circle cx="11.9" cy="27.9" r="0.77"/><circle cx="14.0" cy="36.6" r="0.50"/><circle cx="11.5" cy="49.3" r="0.70"/><circle cx="12.6" cy="5.1" r="0.48"/><circle cx="38.9" cy="31.7" r="0.55"/><circle cx="13.2" cy="39.2" r="0.70"/><circle cx="51.9" cy="37.3" r="0.52"/><circle cx="4.2" cy="46.9" r="0.59"/><circle cx="46.2" cy="3.5" r="0.73"/><circle cx="21.5" cy="53.9" r="0.75"/><circle cx="31.6" cy="1.0" r="0.77"/><circle cx="30.5" cy="55.8" r="0.54"/><circle cx="11.9" cy="53.2" r="0.58"/><circle cx="10.5" cy="23.8" r="0.66"/><circle cx="0.3" cy="33.3" r="0.61"/><circle cx="33.0" cy="7.7" r="0.70"/><circle cx="52.3" cy="55.4" r="0.56"/><circle cx="45.5" cy="24.4" r="0.71"/><circle cx="3.9" cy="55.9" r="0.78"/><circle cx="31.7" cy="32.9" r="0.64"/><circle cx="34.4" cy="1.3" r="0.79"/><circle cx="14.3" cy="11.7" r="0.49"/><circle cx="16.0" cy="52.3" r="0.46"/><circle cx="6.2" cy="44.7" r="0.52"/><circle cx="1.1" cy="38.4" r="0.65"/><circle cx="33.5" cy="45.0" r="0.49"/><circle cx="55.6" cy="45.9" r="0.47"/><circle cx="7.9" cy="31.6" r="0.63"/><circle cx="17.9" cy="7.8" r="0.59"/><circle cx="8.8" cy="37.9" r="0.75"/><circle cx="9.4" cy="36.7" r="0.71"/><circle cx="10.5" cy="52.9" r="0.78"/><circle cx="24.9" cy="26.9" r="0.74"/><circle cx="33.6" cy="25.3" r="0.78"/><circle cx="49.7" cy="21.7" r="0.53"/><circle cx="21.4" cy="27.9" r="0.79"/><circle cx="51.5" cy="58.4" r="0.74"/><circle cx="54.2" cy="3.4" r="0.63"/><circle cx="61.3" cy="59.8" r="0.54"/><circle cx="27.0" cy="40.5" r="0.58"/><circle cx="34.0" cy="4.4" r="0.60"/><circle cx="32.3" cy="1.3" r="0.50"/><circle cx="62.1" cy="49.7" r="0.78"/><circle cx="40.5" cy="51.8" r="0.76"/><circle cx="56.6" cy="2.2" r="0.67"/><circle cx="17.0" cy="43.4" r="0.55"/><circle cx="34.7" cy="59.2" r="0.67"/><circle cx="16.0" cy="33.3" r="0.60"/><circle cx="60.9" cy="18.4" r="0.56"/><circle cx="41.4" cy="7.7" r="0.66"/><circle cx="61.2" cy="32.9" r="0.54"/><circle cx="29.9" cy="34.2" r="0.50"/><circle cx="7.9" cy="8.4" r="0.55"/><circle cx="26.0" cy="18.5" r="0.54"/><circle cx="5.6" cy="35.0" r="0.74"/><circle cx="39.0" cy="36.5" r="0.68"/><circle cx="12.9" cy="45.5" r="0.61"/><circle cx="35.1" cy="39.2" r="0.61"/><circle cx="19.9" cy="15.5" r="0.53"/><circle cx="32.8" cy="24.5" r="0.65"/><circle cx="0.8" cy="22.6" r="0.75"/><circle cx="15.3" cy="35.6" r="0.62"/><circle cx="18.2" cy="63.2" r="0.55"/><circle cx="49.4" cy="10.1" r="0.47"/><circle cx="55.8" cy="28.2" r="0.47"/><circle cx="24.8" cy="28.2" r="0.71"/><circle cx="7.0" cy="14.4" r="0.79"/><circle cx="47.3" cy="9.9" r="0.57"/><circle cx="22.6" cy="43.2" r="0.67"/><circle cx="54.4" cy="52.6" r="0.63"/><circle cx="47.3" cy="47.6" r="0.72"/><circle cx="30.4" cy="50.2" r="0.70"/><circle cx="58.5" cy="8.1" r="0.75"/><circle cx="0.3" cy="49.0" r="0.66"/><circle cx="31.9" cy="61.6" r="0.65"/><circle cx="26.7" cy="50.2" r="0.76"/><circle cx="38.9" cy="24.3" r="0.61"/><circle cx="29.3" cy="46.3" r="0.55"/><circle cx="25.0" cy="35.5" r="0.58"/><circle cx="20.6" cy="50.4" r="0.75"/><circle cx="32.0" cy="28.4" r="0.51"/><circle cx="19.5" cy="9.3" r="0.65"/><circle cx="37.2" cy="5.6" r="0.77"/><circle cx="20.7" cy="54.0" r="0.74"/><circle cx="61.4" cy="13.1" r="0.60"/><circle cx="58.3" cy="0.7" r="0.47"/><circle cx="36.2" cy="31.8" r="0.77"/><circle cx="49.5" cy="34.5" r="0.80"/><circle cx="33.1" cy="33.1" r="0.69"/><circle cx="24.9" cy="22.9" r="0.66"/><circle cx="22.5" cy="60.7" r="0.69"/><circle cx="33.6" cy="6.3" r="0.58"/><circle cx="25.7" cy="35.9" r="0.65"/><circle cx="56.3" cy="61.7" r="0.62"/><circle cx="28.2" cy="40.0" r="0.80"/><circle cx="22.0" cy="33.9" r="0.74"/><circle cx="10.9" cy="20.4" r="0.79"/><circle cx="52.9" cy="32.8" r="0.49"/><circle cx="57.2" cy="44.2" r="0.74"/><circle cx="63.4" cy="56.8" r="0.60"/><circle cx="10.0" cy="18.6" r="0.63"/><circle cx="32.3" cy="12.0" r="0.51"/><circle cx="40.3" cy="38.6" r="0.57"/><circle cx="63.6" cy="40.7" r="0.46"/><circle cx="26.3" cy="50.4" r="0.56"/><circle cx="44.2" cy="0.3" r="0.56"/><circle cx="53.9" cy="37.5" r="0.68"/><circle cx="12.6" cy="31.9" r="0.64"/><circle cx="17.0" cy="41.4" r="0.64"/><circle cx="63.8" cy="36.8" r="0.59"/><circle cx="7.8" cy="10.0" r="0.72"/><circle cx="6.8" cy="6.4" r="0.51"/><circle cx="33.4" cy="52.7" r="0.66"/><circle cx="51.6" cy="4.0" r="0.45"/><circle cx="49.3" cy="20.7" r="0.70"/><circle cx="22.6" cy="10.8" r="0.54"/><circle cx="6.4" cy="57.8" r="0.65"/><circle cx="22.3" cy="28.8" r="0.58"/><circle cx="3.5" cy="57.0" r="0.65"/><circle cx="61.4" cy="28.1" r="0.67"/><circle cx="16.0" cy="2.8" r="0.78"/><circle cx="54.7" cy="20.1" r="0.76"/><circle cx="52.2" cy="19.4" r="0.66"/><circle cx="61.4" cy="31.7" r="0.78"/><circle cx="15.5" cy="24.9" r="0.70"/><circle cx="14.2" cy="19.8" r="0.76"/><circle cx="31.0" cy="50.7" r="0.54"/><circle cx="11.1" cy="22.9" r="0.52"/><circle cx="62.2" cy="18.6" r="0.65"/><circle cx="7.4" cy="34.2" r="0.58"/><circle cx="25.8" cy="4.2" r="0.49"/><circle cx="52.9" cy="22.5" r="0.54"/><circle cx="12.2" cy="18.1" r="0.53"/><circle cx="2.2" cy="42.5" r="0.57"/><circle cx="10.0" cy="45.2" r="0.48"/><circle cx="17.3" cy="53.4" r="0.49"/><circle cx="28.4" cy="53.5" r="0.73"/><circle cx="10.2" cy="22.6" r="0.70"/><circle cx="24.1" cy="61.3" r="0.52"/><circle cx="60.9" cy="32.3" r="0.53"/><circle cx="29.0" cy="8.4" r="0.70"/><circle cx="16.7" cy="57.6" r="0.66"/><circle cx="23.6" cy="15.8" r="0.66"/><circle cx="13.6" cy="55.8" r="0.49"/><circle cx="32.8" cy="34.7" r="0.54"/><circle cx="49.4" cy="24.6" r="0.68"/><circle cx="36.3" cy="19.9" r="0.59"/><circle cx="5.5" cy="11.3" r="0.75"/><circle cx="20.5" cy="42.4" r="0.49"/><circle cx="36.0" cy="23.1" r="0.63"/><circle cx="19.0" cy="4.2" r="0.56"/><circle cx="14.5" cy="8.1" r="0.70"/><circle cx="18.1" cy="25.8" r="0.77"/><circle cx="49.6" cy="56.5" r="0.75"/><circle cx="8.5" cy="17.7" r="0.46"/><circle cx="43.5" cy="42.5" r="0.57"/><circle cx="26.4" cy="42.2" r="0.69"/><circle cx="15.9" cy="54.2" r="0.57"/><circle cx="40.2" cy="11.6" r="0.49"/><circle cx="58.4" cy="47.0" r="0.70"/><circle cx="2.6" cy="2.6" r="0.51"/><circle cx="12.7" cy="19.4" r="0.58"/><circle cx="2.5" cy="19.9" r="0.67"/><circle cx="11.5" cy="53.7" r="0.65"/><circle cx="45.9" cy="16.3" r="0.60"/><circle cx="43.8" cy="22.3" r="0.45"/><circle cx="53.4" cy="49.7" r="0.55"/><circle cx="2.7" cy="54.7" r="0.66"/><circle cx="3.0" cy="15.6" r="0.49"/><circle cx="50.7" cy="13.4" r="0.77"/><circle cx="48.0" cy="5.5" r="0.69"/><circle cx="25.2" cy="47.8" r="0.74"/><circle cx="18.0" cy="5.8" r="0.78"/><circle cx="27.1" cy="59.5" r="0.69"/><circle cx="47.3" cy="53.1" r="0.67"/><circle cx="29.0" cy="3.5" r="0.69"/><circle cx="27.4" cy="32.8" r="0.77"/><circle cx="8.2" cy="48.8" r="0.47"/><circle cx="45.0" cy="51.6" r="0.54"/><circle cx="35.0" cy="62.0" r="0.67"/><circle cx="34.8" cy="16.0" r="0.47"/><circle cx="22.9" cy="26.3" r="0.52"/><circle cx="19.9" cy="8.7" r="0.70"/><circle cx="42.9" cy="15.2" r="0.53"/><circle cx="33.0" cy="28.5" r="0.78"/><circle cx="22.5" cy="19.2" r="0.76"/><circle cx="9.1" cy="36.0" r="0.57"/><circle cx="52.2" cy="35.1" r="0.72"/><circle cx="10.8" cy="42.7" r="0.66"/><circle cx="29.5" cy="49.0" r="0.74"/><circle cx="7.3" cy="18.5" r="0.58"/><circle cx="13.2" cy="3.9" r="0.55"/><circle cx="12.6" cy="44.9" r="0.61"/><circle cx="7.2" cy="20.8" r="0.61"/><circle cx="23.2" cy="10.8" r="0.48"/><circle cx="0.7" cy="63.5" r="0.71"/><circle cx="5.4" cy="45.9" r="0.79"/><circle cx="36.1" cy="7.0" r="0.62"/><circle cx="27.8" cy="12.1" r="0.64"/><circle cx="0.5" cy="58.9" r="0.68"/><circle cx="40.2" cy="59.9" r="0.68"/><circle cx="16.1" cy="15.7" r="0.50"/><circle cx="1.8" cy="49.6" r="0.74"/><circle cx="19.0" cy="11.9" r="0.67"/><circle cx="54.1" cy="59.3" r="0.51"/><circle cx="50.2" cy="53.1" r="0.71"/><circle cx="20.9" cy="11.8" r="0.74"/><circle cx="20.5" cy="23.6" r="0.64"/><circle cx="23.6" cy="53.2" r="0.53"/><circle cx="2.6" cy="36.3" r="0.67"/><circle cx="52.5" cy="45.2" r="0.77"/><circle cx="60.5" cy="31.6" r="0.62"/><circle cx="10.1" cy="19.2" r="0.65"/><circle cx="5.1" cy="44.0" r="0.51"/><circle cx="28.4" cy="62.1" r="0.48"/><circle cx="2.6" cy="28.1" r="0.52"/><circle cx="46.3" cy="0.2" r="0.74"/><circle cx="54.7" cy="50.4" r="0.60"/><circle cx="18.1" cy="42.3" r="0.63"/><circle cx="27.0" cy="21.7" r="0.60"/><circle cx="42.6" cy="52.9" r="0.77"/><circle cx="10.5" cy="18.9" r="0.61"/><circle cx="36.1" cy="22.3" r="0.52"/><circle cx="5.4" cy="20.7" r="0.61"/><circle cx="62.2" cy="58.2" r="0.75"/><circle cx="62.4" cy="61.6" r="0.67"/><circle cx="51.9" cy="3.8" r="0.69"/><circle cx="39.0" cy="19.0" r="0.65"/><circle cx="61.0" cy="30.8" r="0.68"/><circle cx="19.2" cy="22.0" r="0.76"/><circle cx="1.8" cy="12.1" r="0.69"/><circle cx="28.6" cy="5.5" r="0.68"/><circle cx="23.8" cy="37.2" r="0.60"/><circle cx="33.9" cy="36.1" r="0.59"/><circle cx="7.3" cy="11.6" r="0.76"/><circle cx="35.1" cy="7.2" r="0.75"/><circle cx="16.2" cy="6.1" r="0.64"/><circle cx="16.1" cy="31.3" r="0.64"/><circle cx="14.5" cy="36.7" r="0.49"/><circle cx="32.8" cy="37.7" r="0.48"/><circle cx="26.1" cy="4.7" r="0.60"/><circle cx="55.3" cy="35.2" r="0.70"/><circle cx="48.4" cy="7.3" r="0.80"/><circle cx="46.2" cy="6.5" r="0.74"/><circle cx="25.1" cy="11.0" r="0.79"/><circle cx="36.0" cy="49.6" r="0.50"/><circle cx="49.7" cy="3.7" r="0.53"/><circle cx="23.8" cy="1.0" r="0.66"/><circle cx="13.6" cy="19.2" r="0.70"/><circle cx="27.3" cy="56.9" r="0.67"/><circle cx="55.8" cy="36.0" r="0.77"/><circle cx="55.7" cy="10.8" r="0.71"/><circle cx="21.8" cy="48.9" r="0.69"/><circle cx="52.8" cy="7.9" r="0.58"/><circle cx="47.2" cy="60.7" r="0.70"/><circle cx="2.8" cy="38.6" r="0.48"/><circle cx="35.1" cy="51.4" r="0.49"/><circle cx="59.2" cy="43.2" r="0.54"/><circle cx="12.4" cy="28.6" r="0.74"/><circle cx="37.2" cy="7.3" r="0.46"/><circle cx="7.1" cy="51.2" r="0.51"/><circle cx="35.5" cy="18.6" r="0.69"/><circle cx="24.4" cy="9.2" r="0.76"/><circle cx="34.5" cy="44.1" r="0.73"/><circle cx="60.7" cy="0.9" r="0.57"/><circle cx="9.7" cy="32.1" r="0.76"/><circle cx="51.2" cy="2.3" r="0.51"/><circle cx="52.4" cy="43.5" r="0.59"/><circle cx="30.4" cy="10.1" r="0.75"/><circle cx="25.2" cy="55.9" r="0.66"/><circle cx="4.9" cy="21.1" r="0.53"/><circle cx="57.2" cy="37.7" r="0.47"/><circle cx="10.9" cy="23.1" r="0.61"/><circle cx="36.9" cy="24.8" r="0.57"/><circle cx="0.4" cy="37.1" r="0.57"/><circle cx="1.3" cy="29.4" r="0.80"/><circle cx="2.9" cy="9.3" r="0.68"/><circle cx="17.5" cy="17.5" r="0.63"/><circle cx="16.8" cy="36.4" r="0.63"/><circle cx="61.2" cy="63.5" r="0.46"/><circle cx="35.9" cy="49.3" r="0.76"/><circle cx="49.6" cy="40.5" r="0.67"/><circle cx="23.2" cy="18.0" r="0.73"/><circle cx="55.9" cy="60.1" r="0.69"/><circle cx="19.5" cy="48.9" r="0.71"/><circle cx="32.6" cy="40.7" r="0.57"/><circle cx="35.2" cy="26.0" r="0.47"/><circle cx="21.6" cy="20.7" r="0.80"/><circle cx="30.8" cy="23.5" r="0.54"/><circle cx="15.0" cy="22.4" r="0.50"/><circle cx="0.5" cy="55.7" r="0.61"/><circle cx="28.5" cy="36.4" r="0.56"/><circle cx="10.8" cy="4.2" r="0.56"/><circle cx="19.7" cy="46.5" r="0.64"/><circle cx="60.0" cy="21.8" r="0.77"/><circle cx="37.3" cy="5.1" r="0.51"/><circle cx="37.2" cy="63.2" r="0.57"/><circle cx="49.6" cy="27.4" r="0.75"/><circle cx="4.3" cy="31.0" r="0.76"/><circle cx="17.7" cy="16.5" r="0.46"/><circle cx="10.5" cy="17.2" r="0.70"/><circle cx="14.0" cy="25.6" r="0.52"/><circle cx="38.6" cy="55.3" r="0.68"/><circle cx="12.6" cy="47.0" r="0.79"/><circle cx="38.5" cy="5.1" r="0.73"/><circle cx="56.0" cy="21.8" r="0.50"/><circle cx="12.0" cy="34.4" r="0.76"/><circle cx="41.0" cy="59.1" r="0.52"/><circle cx="20.9" cy="48.0" r="0.68"/><circle cx="25.9" cy="43.5" r="0.57"/><circle cx="3.7" cy="26.5" r="0.47"/><circle cx="40.1" cy="21.4" r="0.62"/><circle cx="38.3" cy="16.4" r="0.61"/><circle cx="0.9" cy="59.2" r="0.65"/><circle cx="63.2" cy="3.6" r="0.66"/><circle cx="46.3" cy="21.1" r="0.48"/><circle cx="10.0" cy="9.1" r="0.72"/><circle cx="5.8" cy="52.1" r="0.60"/><circle cx="34.5" cy="37.7" r="0.64"/><circle cx="42.1" cy="38.5" r="0.57"/><circle cx="47.4" cy="16.5" r="0.70"/><circle cx="48.9" cy="49.7" r="0.56"/><circle cx="49.4" cy="62.6" r="0.61"/><circle cx="17.8" cy="33.5" r="0.78"/><circle cx="8.4" cy="0.6" r="0.62"/><circle cx="41.9" cy="49.5" r="0.58"/><circle cx="63.3" cy="14.6" r="0.71"/><circle cx="5.8" cy="1.8" r="0.50"/></g></pattern><clipPath id="pb"><path d="M1238,96.2 L1309.3,137.9 L1320,139 L1377,206 L1296,305 L1285.8,301.1 C1270,298 1255,294 1242,293.9 C1230,296 1220,298 1213,297.5 C1205,296 1200,292 1195.9,289 L1150.7,262.7 L1150.7,262.7 C1149.7,261.2 1146.7,258.1 1144.7,253.6 C1142.7,249.1 1139.9,242.0 1138.6,235.4 C1137.3,228.8 1136.6,221.2 1137.1,214.1 C1137.6,207.0 1139.3,200.0 1141.6,192.9 C1143.9,185.8 1146.8,179.2 1150.7,171.6 C1154.6,164.0 1160.1,155.3 1165.0,147.3 C1169.9,139.3 1173.1,130.0 1180.1,123.4 C1187.1,116.8 1199.8,111.5 1206.8,107.8 C1213.8,104.1 1216.8,103.4 1222.0,101.5 C1227.2,99.6 1235.3,97.1 1238.0,96.2 Z"/></clipPath></defs>
<text transform="translate(158.16,41.80) scale(0.918,1)" class="lb">198</text>
<g transform="translate(158.16,41.80) scale(0.918,1)" fill="#fff"><rect x="1.00" y="-3.6" width="7.6" height="5"/><rect x="12.40" y="-3.6" width="7.6" height="5"/></g>
<text transform="translate(13.05,256.00) scale(0.923,1)" class="lb">196</text>
<g transform="translate(13.05,256.00) scale(0.923,1)" fill="#fff"><rect x="1.00" y="-3.6" width="7.6" height="5"/><rect x="12.40" y="-3.6" width="7.6" height="5"/></g>
<text transform="translate(116.97,319.30) scale(0.914,1)" class="lb">197</text>
<g transform="translate(116.97,319.30) scale(0.914,1)" fill="#fff"><rect x="1.00" y="-3.6" width="7.6" height="5"/><rect x="12.40" y="-3.6" width="7.6" height="5"/></g>
<text transform="translate(661.54,168.50) scale(0.956,1)" class="lb">203</text>
<text transform="translate(632.77,301.00) scale(0.926,1)" class="lb">200</text>
<text transform="translate(213.94,500.30) scale(0.932,1)" class="lb">199</text>
<g transform="translate(213.94,500.30) scale(0.932,1)" fill="#fff"><rect x="1.00" y="-3.6" width="7.6" height="5"/><rect x="12.40" y="-3.6" width="7.6" height="5"/></g>
<text transform="translate(156.96,638.00) scale(0.942,1)" class="lb">204</text>
<text transform="translate(551.34,653.80) scale(0.959,1)" class="lb">201</text>
<g transform="translate(551.34,653.80) scale(0.959,1)" fill="#fff"><rect x="40.48" y="-3.6" width="7.6" height="5"/><rect x="51.88" y="-3.6" width="7.6" height="5"/></g>
<text transform="translate(1003.05,321.90) scale(0.953,1)" class="lb">202</text>
<text transform="translate(913.95,871.00) scale(0.949,1)" class="lb">220</text>
<text transform="translate(1109.1,410.8) scale(0.99,1)" class="lb" style="font-size:34px;stroke-width:0.55">(OPTIONAL)</text>
<text x="1354" y="1010" class="lb">CT 000</text>
<rect x="960" y="8" width="450" height="426" fill="none" stroke="#000" stroke-width="2"/>
<polyline class="ld" points="163.3,47.7 143,85.2"/>
<polyline class="ld" points="70.4,241.1 122.2,218"/>
<polyline class="ld" points="173,297.5 226,274.3"/>
<polyline class="ld" points="658.7,161.7 602,196"/>
<polyline class="ld" points="628.8,294 572.4,329.8"/>
<polyline class="ld" points="270.8,476.6 324,455"/>
<polyline class="ld" points="327.5,563.2 220.6,616.7 311.7,726"/>
<polyline class="ld" points="220.6,616.7 306.9,639.5"/>
<polyline class="ld" points="621.1,558.8 608.3,633 715.1,578.6"/>
<polyline class="ld" points="1062.4,295.4 1114.4,250.2"/>
<polyline class="ld" points="971.8,850.7 1022.7,828.7"/>
<g transform="translate(99.5,80.5) rotate(23.82)"><path d="M0,-7.0 L82.20267635545693,-7.0 L82.20267635545693,7.0 L0,7.0 A6.0,7.0 0 0 1 0,-7.0 Z" fill="#fff" stroke="#000" stroke-width="1.6"/><line x1="-6.0" y1="-7.0" x2="-0.5" y2="7.0" stroke="#000" stroke-width="0.95"/><line x1="-4.4" y1="-7.0" x2="1.1" y2="7.0" stroke="#000" stroke-width="0.95"/><line x1="-2.8" y1="-7.0" x2="2.7" y2="7.0" stroke="#000" stroke-width="0.95"/><line x1="-1.2" y1="-7.0" x2="4.3" y2="7.0" stroke="#000" stroke-width="0.95"/><line x1="0.4" y1="-7.0" x2="5.9" y2="7.0" stroke="#000" stroke-width="0.95"/><line x1="2.0" y1="-7.0" x2="7.5" y2="7.0" stroke="#000" stroke-width="0.95"/><line x1="3.6" y1="-7.0" x2="9.1" y2="7.0" stroke="#000" stroke-width="0.95"/><line x1="5.2" y1="-7.0" x2="10.7" y2="7.0" stroke="#000" stroke-width="0.95"/><line x1="6.8" y1="-7.0" x2="12.3" y2="7.0" stroke="#000" stroke-width="0.95"/><line x1="8.4" y1="-7.0" x2="13.9" y2="7.0" stroke="#000" stroke-width="0.95"/><line x1="10.0" y1="-7.0" x2="15.5" y2="7.0" stroke="#000" stroke-width="0.95"/><line x1="11.6" y1="-7.0" x2="17.1" y2="7.0" stroke="#000" stroke-width="0.95"/><line x1="13.2" y1="-7.0" x2="18.7" y2="7.0" stroke="#000" stroke-width="0.95"/><line x1="14.8" y1="-7.0" x2="20.3" y2="7.0" stroke="#000" stroke-width="0.95"/><line x1="16.4" y1="-7.0" x2="21.9" y2="7.0" stroke="#000" stroke-width="0.95"/><line x1="18.0" y1="-7.0" x2="23.5" y2="7.0" stroke="#000" stroke-width="0.95"/><line x1="19.6" y1="-7.0" x2="24.6" y2="7.0" stroke="#000" stroke-width="0.95"/><line x1="21.2" y1="-7.0" x2="24.6" y2="7.0" stroke="#000" stroke-width="0.95"/><line x1="22.8" y1="-7.0" x2="24.6" y2="7.0" stroke="#000" stroke-width="0.95"/><line x1="24.4" y1="-7.0" x2="24.6" y2="7.0" stroke="#000" stroke-width="0.95"/><rect x="-6.0" y="-7.0" width="30.6" height="14" fill="#000" fill-opacity="0.6"/><line x1="47.5" y1="-7.0" x2="53.0" y2="7.0" stroke="#000" stroke-width="0.95"/><line x1="49.1" y1="-7.0" x2="54.6" y2="7.0" stroke="#000" stroke-width="0.95"/><line x1="50.7" y1="-7.0" x2="56.2" y2="7.0" stroke="#000" stroke-width="0.95"/><line x1="52.3" y1="-7.0" x2="57.8" y2="7.0" stroke="#000" stroke-width="0.95"/><line x1="53.9" y1="-7.0" x2="59.4" y2="7.0" stroke="#000" stroke-width="0.95"/><line x1="55.5" y1="-7.0" x2="61.0" y2="7.0" stroke="#000" stroke-width="0.95"/><line x1="57.1" y1="-7.0" x2="62.6" y2="7.0" stroke="#000" stroke-width="0.95"/><line x1="58.7" y1="-7.0" x2="64.2" y2="7.0" stroke="#000" stroke-width="0.95"/><line x1="60.3" y1="-7.0" x2="65.8" y2="7.0" stroke="#000" stroke-width="0.95"/><line x1="61.9" y1="-7.0" x2="67.4" y2="7.0" stroke="#000" stroke-width="0.95"/><line x1="63.5" y1="-7.0" x2="69.0" y2="7.0" stroke="#000" stroke-width="0.95"/><line x1="65.1" y1="-7.0" x2="70.6" y2="7.0" stroke="#000" stroke-width="0.95"/><line x1="66.7" y1="-7.0" x2="72.2" y2="7.0" stroke="#000" stroke-width="0.95"/><line x1="68.3" y1="-7.0" x2="73.8" y2="7.0" stroke="#000" stroke-width="0.95"/><line x1="69.9" y1="-7.0" x2="75.4" y2="7.0" stroke="#000" stroke-width="0.95"/><line x1="71.5" y1="-7.0" x2="77.0" y2="7.0" stroke="#000" stroke-width="0.95"/><line x1="73.1" y1="-7.0" x2="78.6" y2="7.0" stroke="#000" stroke-width="0.95"/><line x1="74.7" y1="-7.0" x2="80.2" y2="7.0" stroke="#000" stroke-width="0.95"/><line x1="76.3" y1="-7.0" x2="81.8" y2="7.0" stroke="#000" stroke-width="0.95"/><line x1="77.9" y1="-7.0" x2="82.2" y2="7.0" stroke="#000" stroke-width="0.95"/><line x1="79.5" y1="-7.0" x2="82.2" y2="7.0" stroke="#000" stroke-width="0.95"/><line x1="81.1" y1="-7.0" x2="82.2" y2="7.0" stroke="#000" stroke-width="0.95"/><rect x="47.5" y="-7.0" width="34.70267635545693" height="14" fill="#000" fill-opacity="0.6"/><line x1="24.6" y1="-7.0" x2="47.5" y2="-7.0" stroke="#000" stroke-width="1.6"/><line x1="24.6" y1="7.0" x2="47.5" y2="7.0" stroke="#000" stroke-width="1.6"/><ellipse cx="82.20267635545693" cy="0" rx="4" ry="7.0" fill="#fff" stroke="#000" stroke-width="1.6"/></g>
<g transform="translate(31,138) rotate(24.95)"><path d="M0,-7.0 L82.27545198903496,-7.0 L82.27545198903496,7.0 L0,7.0 A6.0,7.0 0 0 1 0,-7.0 Z" fill="#fff" stroke="#000" stroke-width="1.6"/><line x1="-6.0" y1="-7.0" x2="-0.5" y2="7.0" stroke="#000" stroke-width="0.95"/><line x1="-4.4" y1="-7.0" x2="1.1" y2="7.0" stroke="#000" stroke-width="0.95"/><line x1="-2.8" y1="-7.0" x2="2.7" y2="7.0" stroke="#000" stroke-width="0.95"/><line x1="-1.2" y1="-7.0" x2="4.3" y2="7.0" stroke="#000" stroke-width="0.95"/><line x1="0.4" y1="-7.0" x2="5.9" y2="7.0" stroke="#000" stroke-width="0.95"/><line x1="2.0" y1="-7.0" x2="7.5" y2="7.0" stroke="#000" stroke-width="0.95"/><line x1="3.6" y1="-7.0" x2="9.1" y2="7.0" stroke="#000" stroke-width="0.95"/><line x1="5.2" y1="-7.0" x2="10.7" y2="7.0" stroke="#000" stroke-width="0.95"/><line x1="6.8" y1="-7.0" x2="12.3" y2="7.0" stroke="#000" stroke-width="0.95"/><line x1="8.4" y1="-7.0" x2="13.9" y2="7.0" stroke="#000" stroke-width="0.95"/><line x1="10.0" y1="-7.0" x2="15.5" y2="7.0" stroke="#000" stroke-width="0.95"/><line x1="11.6" y1="-7.0" x2="17.1" y2="7.0" stroke="#000" stroke-width="0.95"/><line x1="13.2" y1="-7.0" x2="18.7" y2="7.0" stroke="#000" stroke-width="0.95"/><line x1="14.8" y1="-7.0" x2="20.3" y2="7.0" stroke="#000" stroke-width="0.95"/><line x1="16.4" y1="-7.0" x2="21.9" y2="7.0" stroke="#000" stroke-width="0.95"/><line x1="18.0" y1="-7.0" x2="23.5" y2="7.0" stroke="#000" stroke-width="0.95"/><line x1="19.6" y1="-7.0" x2="25.1" y2="7.0" stroke="#000" stroke-width="0.95"/><line x1="21.2" y1="-7.0" x2="26.7" y2="7.0" stroke="#000" stroke-width="0.95"/><line x1="22.8" y1="-7.0" x2="27.0" y2="7.0" stroke="#000" stroke-width="0.95"/><line x1="24.4" y1="-7.0" x2="27.0" y2="7.0" stroke="#000" stroke-width="0.95"/><line x1="26.0" y1="-7.0" x2="27.0" y2="7.0" stroke="#000" stroke-width="0.95"/><rect x="-6.0" y="-7.0" width="33.0" height="14" fill="#000" fill-opacity="0.6"/><line x1="48.5" y1="-7.0" x2="54.0" y2="7.0" stroke="#000" stroke-width="0.95"/><line x1="50.1" y1="-7.0" x2="55.6" y2="7.0" stroke="#000" stroke-width="0.95"/><line x1="51.7" y1="-7.0" x2="57.2" y2="7.0" stroke="#000" stroke-width="0.95"/><line x1="53.3" y1="-7.0" x2="58.8" y2="7.0" stroke="#000" stroke-width="0.95"/><line x1="54.9" y1="-7.0" x2="60.4" y2="7.0" stroke="#000" stroke-width="0.95"/><line x1="56.5" y1="-7.0" x2="62.0" y2="7.0" stroke="#000" stroke-width="0.95"/><line x1="58.1" y1="-7.0" x2="63.6" y2="7.0" stroke="#000" stroke-width="0.95"/><line x1="59.7" y1="-7.0" x2="65.2" y2="7.0" stroke="#000" stroke-width="0.95"/><line x1="61.3" y1="-7.0" x2="66.8" y2="7.0" stroke="#000" stroke-width="0.95"/><line x1="62.9" y1="-7.0" x2="68.4" y2="7.0" stroke="#000" stroke-width="0.95"/><line x1="64.5" y1="-7.0" x2="70.0" y2="7.0" stroke="#000" stroke-width="0.95"/><line x1="66.1" y1="-7.0" x2="71.6" y2="7.0" stroke="#000" stroke-width="0.95"/><line x1="67.7" y1="-7.0" x2="73.2" y2="7.0" stroke="#000" stroke-width="0.95"/><line x1="69.3" y1="-7.0" x2="74.8" y2="7.0" stroke="#000" stroke-width="0.95"/><line x1="70.9" y1="-7.0" x2="76.4" y2="7.0" stroke="#000" stroke-width="0.95"/><line x1="72.5" y1="-7.0" x2="78.0" y2="7.0" stroke="#000" stroke-width="0.95"/><line x1="74.1" y1="-7.0" x2="79.6" y2="7.0" stroke="#000" stroke-width="0.95"/><line x1="75.7" y1="-7.0" x2="81.2" y2="7.0" stroke="#000" stroke-width="0.95"/><line x1="77.3" y1="-7.0" x2="82.3" y2="7.0" stroke="#000" stroke-width="0.95"/><line x1="78.9" y1="-7.0" x2="82.3" y2="7.0" stroke="#000" stroke-width="0.95"/><line x1="80.5" y1="-7.0" x2="82.3" y2="7.0" stroke="#000" stroke-width="0.95"/><line x1="82.1" y1="-7.0" x2="82.3" y2="7.0" stroke="#000" stroke-width="0.95"/><rect x="48.5" y="-7.0" width="33.77545198903496" height="14" fill="#000" fill-opacity="0.6"/><line x1="27" y1="-7.0" x2="48.5" y2="-7.0" stroke="#000" stroke-width="1.6"/><line x1="27" y1="7.0" x2="48.5" y2="7.0" stroke="#000" stroke-width="1.6"/><ellipse cx="82.27545198903496" cy="0" rx="4" ry="7.0" fill="#fff" stroke="#000" stroke-width="1.6"/></g>
<g transform="translate(0,0)"><path d="M125,220.2 C121,214 122,201 131,193 L163,157 C170,148 178,140 186,136 C190,133 192,132 196,131.7 L236.4,129.5 C242,129.5 246,133 246.6,140 C247,148 244,156 240.8,161.2 L220.8,181.3 L199.6,204.6 C195,209 190,213 184,214.7 C175,217 168,218 159.5,219.1 L131.7,222.5 C129,222.6 127,222 125,220.2 Z" class="st" stroke-width="2.6"/><ellipse cx="184.8" cy="175.7" rx="18.3" ry="30.3" transform="rotate(28 184.8 175.7)" fill="#fff" stroke="#000" stroke-width="2.6"/><ellipse cx="140.1" cy="202.4" rx="4.8" ry="7.5" transform="rotate(32 140.1 202.4)" fill="#fff" stroke="#000" stroke-width="2.2"/><ellipse cx="230.3" cy="149.5" rx="4.8" ry="7.5" transform="rotate(32 230.3 149.5)" fill="#fff" stroke="#000" stroke-width="2.2"/></g>
<g transform="translate(180,109)"><path d="M125,220.2 C121,214 122,201 131,193 L163,157 C170,148 178,140 186,136 C190,133 192,132 196,131.7 L236.4,129.5 C242,129.5 246,133 246.6,140 C247,148 244,156 240.8,161.2 L220.8,181.3 L199.6,204.6 C195,209 190,213 184,214.7 C175,217 168,218 159.5,219.1 L131.7,222.5 C129,222.6 127,222 125,220.2 Z" class="st" stroke-width="2.6"/><ellipse cx="184.8" cy="175.7" rx="18.3" ry="30.3" transform="rotate(28 184.8 175.7)" fill="#fff" stroke="#000" stroke-width="2.6"/><ellipse cx="140.1" cy="202.4" rx="4.8" ry="7.5" transform="rotate(32 140.1 202.4)" fill="#fff" stroke="#000" stroke-width="2.2"/><ellipse cx="230.3" cy="149.5" rx="4.8" ry="7.5" transform="rotate(32 230.3 149.5)" fill="#fff" stroke="#000" stroke-width="2.2"/></g>
<path class="w" stroke-width="1.9" d="M226.4,272.2 C224.5,266 224.8,255 230.6,248.8 L258.3,210.5 C262,204 265,201 267.8,198.8 C274,194 281,191 288,190.8 L300.8,192.4 L331.6,198.8 C336,200 340,202 341.2,205.2 C343,208 344,212 343.3,215.8 C343,221 342,224 340.1,227.5 L310.3,263.7 C305,270 301,274 296.5,277.5 C290,282 285,284 279.5,284.4 L246.6,280.7 L232.8,276.4 C230,275.5 228,274 226.4,272.2 Z"/>
<path class="k" stroke-width="1.9" d="M239.1,276.4 C237,270 237.5,259 244.4,253 L270,216.9 C273,212 276,209 279.5,206.3 C285,201 291,198 298.7,196.7 L331.6,201 C336,202 339,203 341.2,205.2"/>
<path class="k" stroke-width="1.5" d="M258.3,210.5 L270,216.9 M230.6,248.8 L243.4,254.1 M288,190.8 C292,192 296,194 298.7,196.7"/>
<ellipse cx="289.1" cy="241.3" rx="20.5" ry="29" transform="rotate(20 289.1 241.3)" fill="#fff" stroke="#000" stroke-width="1.9"/>
<path class="k" stroke-width="1.6" d="M289.1,215.8 C295,222 295,236 288,247 C283,254 276,257 270,257.3"/>
<ellipse cx="251.4" cy="263.7" rx="5.2" ry="8" transform="rotate(25 251.4 263.7)" fill="#fff" stroke="#000" stroke-width="1.8"/>
<ellipse cx="329.5" cy="218.5" rx="5.2" ry="8" transform="rotate(25 329.5 218.5)" fill="#fff" stroke="#000" stroke-width="1.8"/>
<path class="w" stroke-width="1.7" d="M566.4,203.7 L567.3,215.5 C569,222 571,226 574.6,229.2 C577,232 580,233.5 583.7,234.7 L617.4,253.8 C620,255 623,255.5 624.7,254.7 C628,253 630,251 630.2,249.2 L631,219.2 Z"/>
<path class="w" stroke-width="1.8" d="M546.8,182.8 C547,179 551,176 555.5,174.6 L630.2,216.4 L631.1,218.3 L630.2,218 C625,213 620,211 617.4,211.9 C612,215 608,221 603.8,222.8 C598,224.5 594,225 591,224.6 C587,224 585,222.5 583.7,221 C580,216 575,207 566,200 L547.3,189.6 C546,187 546,185 546.8,182.8 Z"/>
<path class="t" stroke-width="1.1" d="M556.5,177.5 L628,218 M627.5,220 L627.5,250"/>
<ellipse cx="579.6" cy="215.1" rx="4.6" ry="10" transform="rotate(-35 579.6 215.1)" fill="#fff" stroke="#000" stroke-width="1.8"/>
<ellipse cx="580.6" cy="215.6" rx="2.8" ry="8" transform="rotate(-35 580.6 215.6)" fill="none" stroke="#000" stroke-width="1"/>
<ellipse cx="568.2" cy="193.5" rx="4.3" ry="3" fill="#fff" stroke="#000" stroke-width="1.8"/><ellipse cx="594.6" cy="216.9" rx="4.5" ry="3.2" fill="#fff" stroke="#000" stroke-width="2"/>
<ellipse cx="614.7" cy="235.1" rx="7.5" ry="10.8" transform="rotate(-35 614.7 235.1)" fill="#fff" stroke="#000" stroke-width="1.8"/>
<ellipse cx="615.7" cy="235.6" rx="5.5" ry="8.6" transform="rotate(-35 615.7 235.6)" fill="none" stroke="#000" stroke-width="1"/>
<path fill="#fff" d="M382.0,361.0 C383.5,355.8 389.5,346.5 394.0,340.0 C398.5,333.5 403.2,328.7 409.0,322.0 C414.8,315.3 422.0,305.8 429.0,300.0 C436.0,294.2 442.7,291.3 451.0,287.0 C459.3,282.7 470.8,276.8 478.8,274.0 C486.8,271.2 491.2,270.8 499.0,270.5 C506.8,270.2 518.5,271.3 525.5,272.4 C532.5,273.5 535.9,274.1 541.0,277.0 C546.1,279.9 551.8,285.3 556.0,290.0 C560.2,294.7 564.3,294.5 566.0,305.0 C567.7,315.5 565.0,344.8 566.0,353.0 C567.0,361.2 567.5,353.8 572.0,354.5 C576.5,355.2 587.3,354.1 593.0,357.0 C598.7,359.9 602.2,367.6 606.0,371.6 C609.8,375.6 614.4,377.5 615.5,381.0 C616.6,384.5 615.1,388.9 612.9,392.6 C610.7,396.3 605.5,398.4 602.4,403.2 C599.3,408.0 598.2,415.0 594.5,421.6 C590.8,428.2 585.9,437.1 580.0,442.6 C574.1,448.1 565.3,452.3 558.9,454.5 C552.5,456.7 547.3,457.1 541.8,455.8 C536.3,454.5 532.1,449.2 526.0,446.6 C519.9,444.0 512.7,436.8 505.0,440.0 C497.3,443.2 489.1,462.3 480.0,466.0 C470.9,469.7 457.3,464.5 450.4,462.0 C443.4,459.5 445.6,453.9 438.3,451.0 C431.0,448.1 413.2,445.5 406.7,444.9 C400.2,444.3 402.4,449.3 399.4,447.3 C396.4,445.3 390.1,436.4 388.5,432.7 C386.9,429.0 387.9,429.8 389.7,425.4 C391.5,420.9 397.8,413.7 399.4,406.0 C401.0,398.3 401.8,385.1 399.4,379.3 C397.0,373.5 387.9,374.1 385.0,371.0 C382.1,367.9 380.5,366.2 382.0,361.0 Z"/>
<path d="M399.1,377.4 C398.3,376.9 396.6,376.0 394.1,374.6 C391.6,373.2 386.3,370.8 384.2,368.9 C382.1,367.0 381.5,365.5 381.3,363.5 C381.1,361.5 380.7,360.9 382.8,357.0 C384.9,353.1 389.6,346.0 393.9,340.2 C398.2,334.4 404.4,327.4 408.7,322.0 C413.0,316.6 416.1,311.4 419.5,307.8 C422.9,304.2 425.9,302.3 429.1,300.2 C432.3,298.1 434.9,297.2 438.6,295.1 C442.3,293.0 446.9,290.2 451.3,287.4 C455.7,284.6 460.4,280.7 465.0,278.5 C469.6,276.3 473.1,275.3 478.8,274.0 C484.5,272.7 491.2,271.1 499.0,270.8 C506.8,270.5 518.5,271.3 525.5,272.4 C532.5,273.5 538.4,276.6 541.0,277.5" fill="none" stroke="#000" stroke-width="1.8" stroke-linejoin="round" stroke-linecap="round"/>
<path d="M532.0,277.0 C532.8,276.6 535.3,274.4 537.0,274.5 C538.7,274.6 540.7,275.8 542.0,277.5 C543.3,279.2 544.5,283.8 545.0,285.0" fill="none" stroke="#000" stroke-width="1.6" stroke-linejoin="round" stroke-linecap="round"/>
<path d="M545.0,285.0 C546.8,286.2 553.2,289.8 556.0,292.0 C558.8,294.2 560.3,295.8 562.0,298.0 C563.7,300.2 565.3,304.2 566.0,305.5" fill="none" stroke="#000" stroke-width="1.8" stroke-linejoin="round" stroke-linecap="round"/>
<path d="M566.0,305.5 L566.3,353.0" fill="none" stroke="#000" stroke-width="1.8" stroke-linejoin="round" stroke-linecap="round"/>
<path d="M403.3,347.0 C405.0,345.9 410.9,342.7 413.3,340.6 C415.7,338.5 415.6,336.8 417.5,334.2 C419.4,331.6 422.1,328.2 424.6,325.0 C427.1,321.8 430.6,318.5 432.3,314.8 C434.0,311.1 433.8,305.7 434.8,302.7 C435.9,299.7 438.0,297.9 438.6,297.0" fill="none" stroke="#000" stroke-width="1.6" stroke-linejoin="round" stroke-linecap="round"/>
<path d="M432.5,311.0 C432.8,313.8 433.6,323.2 434.5,328.0 C435.4,332.8 436.9,336.8 438.0,340.0 C439.1,343.2 440.4,345.8 440.9,347.0" fill="none" stroke="#000" stroke-width="1.6" stroke-linejoin="round" stroke-linecap="round"/>
<path d="M440.9,347.0 L440.9,371.0" fill="none" stroke="#000" stroke-width="1.6" stroke-linejoin="round" stroke-linecap="round"/>
<ellipse cx="499.3" cy="299.8" rx="48.3" ry="26.7" transform="rotate(3 499.3 299.8)" fill="none" stroke="#000" stroke-width="2"/>
<ellipse cx="499.4" cy="298.8" rx="42.7" ry="23.9" transform="rotate(3 499.4 298.8)" fill="none" stroke="#000" stroke-width="1.6"/>
<path d="M492.8,342.4 C495.2,342.2 502.4,341.5 507.0,341.0 C511.6,340.5 518.2,339.8 520.4,339.5" fill="none" stroke="#000" stroke-width="1.6" stroke-linejoin="round" stroke-linecap="round"/>
<path d="M544.0,326.0 C544.7,324.7 546.8,320.3 548.0,318.0 C549.2,315.7 550.5,313.0 551.0,312.0" fill="none" stroke="#000" stroke-width="1.6" stroke-linejoin="round" stroke-linecap="round"/>
<path d="M442.0,350.9 C444.5,351.1 453.1,352.2 456.8,352.0 C460.5,351.8 460.7,349.6 464.2,349.8 C467.7,350.0 472.2,352.1 478.0,353.0 C483.8,353.9 492.2,355.1 499.2,355.1 C506.2,355.2 512.5,355.1 520.0,353.3 C527.5,351.5 538.2,347.6 544.3,344.5 C550.4,341.4 553.0,337.7 556.4,334.5 C559.8,331.3 562.8,327.6 564.5,325.5 C566.2,323.4 566.2,322.6 566.6,322.0" fill="none" stroke="#000" stroke-width="1.8" stroke-linejoin="round" stroke-linecap="round"/>
<path d="M442.0,362.5 C444.5,362.5 453.1,362.9 456.8,362.5 C460.5,362.1 460.7,360.4 464.2,360.4 C467.7,360.4 472.2,361.8 478.0,362.5 C483.8,363.2 492.2,364.6 499.2,364.7 C506.2,364.8 512.5,364.5 520.0,363.0 C527.5,361.5 538.0,358.9 544.3,355.8 C550.6,352.7 554.5,348.0 558.0,344.5 C561.5,341.0 563.9,337.1 565.3,335.0 C566.7,332.9 566.4,332.5 566.6,332.0" fill="none" stroke="#000" stroke-width="1.8" stroke-linejoin="round" stroke-linecap="round"/>
<path d="M441.0,370.0 C443.6,370.7 452.4,373.7 456.8,374.2 C461.2,374.7 462.1,372.9 467.4,373.1 C472.7,373.3 481.5,374.8 488.6,375.3 C495.7,375.8 504.6,376.4 509.8,376.3 C515.0,376.2 515.6,375.4 520.0,374.5 C524.4,373.6 530.6,372.8 536.0,371.0 C541.4,369.2 548.0,366.2 552.3,363.5 C556.6,360.8 559.6,357.2 562.0,355.0 C564.4,352.8 565.8,350.8 566.6,350.0" fill="none" stroke="#000" stroke-width="1.8" stroke-linejoin="round" stroke-linecap="round"/>
<path fill="#fff" stroke="#000" stroke-width="1.7" stroke-linejoin="round" d="M549,306.5 L549,313.0 A8,4.8 0 0 0 565,313.0 L565,306.5 Z"/><ellipse cx="557" cy="306.5" rx="8" ry="4.8" fill="#fff" stroke="#000" stroke-width="1.7"/><ellipse cx="557" cy="306.8" rx="5.8" ry="3.3" fill="#111" stroke="#000" stroke-width="1"/><circle cx="554.8" cy="306.5" r="1" fill="#fff"/><circle cx="559" cy="306.2" r="1" fill="#fff"/>
<path fill="#fff" stroke="#000" stroke-width="1.7" stroke-linejoin="round" d="M527.9,331.5 L527.9,338.0 A8.6,4.8 0 0 0 545.1,338.0 L545.1,331.5 Z"/><ellipse cx="536.5" cy="331.5" rx="8.6" ry="4.8" fill="#fff" stroke="#000" stroke-width="1.7"/><ellipse cx="536.5" cy="331.8" rx="6.2" ry="3.3" fill="#111" stroke="#000" stroke-width="1"/><circle cx="534.3" cy="331.5" r="1" fill="#fff"/><circle cx="538.5" cy="331.2" r="1" fill="#fff"/>
<path fill="#fff" stroke="#000" stroke-width="1.7" stroke-linejoin="round" d="M474.8,338 L474.8,346 A9,4.6 0 0 0 492.8,346 L492.8,338 Z"/><ellipse cx="483.8" cy="338" rx="9" ry="4.6" fill="#fff" stroke="#000" stroke-width="1.7"/><ellipse cx="483.8" cy="338.3" rx="6.5" ry="3.1" fill="#111" stroke="#000" stroke-width="1"/><circle cx="481.6" cy="338" r="1" fill="#fff"/><circle cx="485.8" cy="337.7" r="1" fill="#fff"/>
<path fill="#fff" d="M453,300.6 L473.2,289.6 L478.7,311.6 L456.7,317.1 Z"/>
<path d="M453.0,300.6 L473.2,289.6" fill="none" stroke="#000" stroke-width="1.6" stroke-linejoin="round" stroke-linecap="round"/>
<path d="M456.7,317.1 L478.7,311.6" fill="none" stroke="#000" stroke-width="1.6" stroke-linejoin="round" stroke-linecap="round"/>
<path d="M464.9,311.6 L470.4,307.0 L470.4,316.2" fill="none" stroke="#000" stroke-width="1.5" stroke-linejoin="round" stroke-linecap="round"/>
<path fill="#fff" stroke="#000" stroke-width="1.7" stroke-linejoin="round" d="M477.8,288 L478.7,311.6 C482,313 488,312 490.7,309.8 L490.7,288 Z"/>
<ellipse cx="482" cy="287.5" rx="8.7" ry="5.7" fill="#fff" stroke="#000" stroke-width="1.7"/>
<path fill="#fff" stroke="#000" stroke-width="1.6" d="M492.5,287 L492.5,293 A7.8,4.5 0 0 0 508.1,293 L508.1,287 Z"/><ellipse cx="500.3" cy="287" rx="7.8" ry="4.6" fill="#fff" stroke="#000" stroke-width="1.6"/><line x1="494.5" y1="290" x2="506.5" y2="284" stroke="#000" stroke-width="2.2"/>
<path d="M467.7,319.9 L467.7,321.0" fill="none" stroke="#000" stroke-width="1.4" stroke-linejoin="round" stroke-linecap="round"/>
<ellipse cx="445" cy="312.9" rx="11.2" ry="10" fill="#fff" stroke="#000" stroke-width="1.9"/>
<ellipse cx="444.3" cy="314.2" rx="5" ry="7.6" transform="rotate(-28 444.3 314.2)" fill="#fff" stroke="#000" stroke-width="2"/>
<path d="M436,321 C438,326 444,324 442,318" fill="none" stroke="#000" stroke-width="1.6"/>
<path fill="#fff" stroke="#000" stroke-width="1.7" d="M452.6,334 C452.6,340 471.6,340 471.6,334 C471.6,330 468,329 468.5,329 L468.5,319 L455.2,319 L455.2,329 C455,329 452.6,330 452.6,334 Z"/>
<path d="M455.2,333 C456,336 467,336 468.5,333" fill="none" stroke="#000" stroke-width="1.4"/>
<path fill="#fff" stroke="#000" stroke-width="1.8" stroke-linejoin="round" d="M401.9,347 L426,337 C430,337 431,344 428.9,347 L408.3,357.6 Z"/>
<ellipse cx="400.5" cy="354.8" rx="6.8" ry="7.8" transform="rotate(-25 400.5 354.8)" fill="#fff" stroke="#000" stroke-width="1.9"/>
<ellipse cx="398.6" cy="356.3" rx="2.9" ry="4.2" transform="rotate(-30 398.6 356.3)" fill="#fff" stroke="#000" stroke-width="1.7"/>
<path d="M396.0,362.0 C395.8,363.3 394.8,367.9 394.5,370.0 C394.2,372.1 394.2,373.8 394.1,374.6" fill="none" stroke="#000" stroke-width="1.6" stroke-linejoin="round" stroke-linecap="round"/>
<path d="M404.8,361.1 C405.7,361.0 409.3,359.6 410.4,360.4 C411.5,361.2 411.5,364.3 411.3,366.0 C411.1,367.7 410.9,368.7 409.0,370.4 C407.1,372.1 401.3,375.1 399.8,376.0" fill="none" stroke="#000" stroke-width="1.6" stroke-linejoin="round" stroke-linecap="round"/>
<path d="M399.0,369.5 L403.0,368.0" fill="none" stroke="#000" stroke-width="1.2" stroke-linejoin="round" stroke-linecap="round"/>
<path d="M421.1,353.3 L438.8,364.7" fill="none" stroke="#000" stroke-width="1.6" stroke-linejoin="round" stroke-linecap="round"/>
<path d="M420.4,334.2 L438.8,344.8 L438.8,367.5" fill="none" stroke="#000" stroke-width="1.6" stroke-linejoin="round" stroke-linecap="round"/>
<path d="M399.4,376.0 L400.2,406.0 L389.7,425.4" fill="none" stroke="#000" stroke-width="1.7" stroke-linejoin="round" stroke-linecap="round"/>
<path d="M399.3,374.0 L411.4,368.5" fill="none" stroke="#000" stroke-width="1.5" stroke-linejoin="round" stroke-linecap="round"/>
<path d="M389.7,425.4 C389.5,426.6 388.1,429.8 388.5,432.7 C388.9,435.6 390.3,440.1 392.1,442.5 C393.9,444.9 397.0,446.9 399.4,447.3 C401.8,447.7 405.5,445.3 406.7,444.9" fill="none" stroke="#000" stroke-width="1.7" stroke-linejoin="round" stroke-linecap="round"/>
<path d="M406.7,444.9 L428.6,451.0 L438.3,451.0" fill="none" stroke="#000" stroke-width="1.7" stroke-linejoin="round" stroke-linecap="round"/>
<ellipse cx="411" cy="404.8" rx="3.4" ry="5" transform="rotate(20 411 404.8)" fill="#fff" stroke="#000" stroke-width="1.6"/><ellipse cx="403.7" cy="427.3" rx="3.2" ry="4.6" transform="rotate(20 403.7 427.3)" fill="#fff" stroke="#000" stroke-width="1.6"/><ellipse cx="396.4" cy="435.2" rx="3.2" ry="4.6" transform="rotate(20 396.4 435.2)" fill="#fff" stroke="#000" stroke-width="1.6"/>
<path d="M434.5,369.7 L434.5,394.6" fill="none" stroke="#000" stroke-width="1.7" stroke-linejoin="round" stroke-linecap="round"/>
<path d="M435.5,400.0 L438.3,455.8 L450.4,461.9" fill="none" stroke="#000" stroke-width="1.7" stroke-linejoin="round" stroke-linecap="round"/>
<path d="M438.7,366.7 L434.5,369.7 L453.3,380.0 L465.0,372.1" fill="none" stroke="#000" stroke-width="1.7" stroke-linejoin="round" stroke-linecap="round"/>
<path d="M453.3,380.0 L453.3,401.3" fill="none" stroke="#000" stroke-width="1.7" stroke-linejoin="round" stroke-linecap="round"/>
<path d="M452.9,418.0 L452.9,443.0" fill="none" stroke="#000" stroke-width="1.7" stroke-linejoin="round" stroke-linecap="round"/>
<path d="M450.4,461.9 L450.4,444.0" fill="none" stroke="#000" stroke-width="1.4" stroke-linejoin="round" stroke-linecap="round"/>
<path d="M465.0,373.2 L500.0,375.6" fill="none" stroke="#000" stroke-width="1.6" stroke-linejoin="round" stroke-linecap="round"/>
<path d="M467.5,373.2 L467.5,389.0 L500.0,390.2" fill="none" stroke="#000" stroke-width="1.6" stroke-linejoin="round" stroke-linecap="round"/>
<path d="M473.5,391.4 L473.5,410.9 L486.9,410.9 L495.4,392.7" fill="none" stroke="#000" stroke-width="1.6" stroke-linejoin="round" stroke-linecap="round"/>
<path d="M408.4,391.6 L409.6,383.1 L415.6,367.3 L426.0,373.4 L425.4,377.6 L412.6,384.9 L412.0,389.1" fill="none" stroke="#000" stroke-width="1.7" stroke-linejoin="round" stroke-linecap="round"/>
<path d="M411.4,387.3 L416.5,371.0 L424.8,374.6" fill="none" stroke="#000" stroke-width="1.1" stroke-linejoin="round" stroke-linecap="round"/>
<path d="M408.4,391.6 L437.5,397.6 L446.6,398.9" fill="none" stroke="#000" stroke-width="1.7" stroke-linejoin="round" stroke-linecap="round"/>
<path d="M446.6,398.9 C447.5,399.7 450.6,401.9 452.1,403.7 C453.6,405.5 455.1,408.0 455.7,409.8 C456.3,411.6 455.7,413.8 455.7,414.6" fill="none" stroke="#000" stroke-width="1.7" stroke-linejoin="round" stroke-linecap="round"/>
<path d="M412.0,390.4 L437.5,395.8 L445.4,397.0" fill="none" stroke="#000" stroke-width="1.1" stroke-linejoin="round" stroke-linecap="round"/>
<path d="M445.4,397.0 C446.4,397.7 450.1,399.6 451.5,401.3 C452.9,403.0 453.6,406.1 454.0,407.0" fill="none" stroke="#000" stroke-width="1.1" stroke-linejoin="round" stroke-linecap="round"/>
<path d="M425.9,378.2 L434.5,375.2" fill="none" stroke="#000" stroke-width="1.5" stroke-linejoin="round" stroke-linecap="round"/>
<path d="M427.8,380.6 L433.9,385.5" fill="none" stroke="#000" stroke-width="1.5" stroke-linejoin="round" stroke-linecap="round"/>
<path d="M421.1,389.8 L429.0,385.5" fill="none" stroke="#000" stroke-width="1.5" stroke-linejoin="round" stroke-linecap="round"/>
<path d="M429,386 L434.2,385.5 L434.2,393 Z" fill="#fff" stroke="#000" stroke-width="1.2"/>
<path fill="#fff" stroke="#000" stroke-width="1.6" stroke-linejoin="round" d="M423.7,409.7 L443,402.4 C450,402 455,410 453,418 C451,425 447,428 442,429 L423.7,428.5 Z"/>
<ellipse cx="423.7" cy="419.4" rx="6.3" ry="9" fill="#fff" stroke="#000" stroke-width="1.7"/>
<ellipse cx="430" cy="407.5" rx="2.5" ry="1.3" fill="none" stroke="#000" stroke-width="1"/>
<ellipse cx="441" cy="421.2" rx="5" ry="7" fill="#fff" stroke="#000" stroke-width="1.7"/><line x1="438" y1="427" x2="443.5" y2="415.5" stroke="#000" stroke-width="1.6"/>
<path d="M420.0,428.0 L421.3,438.8 L434.7,438.8 L435.9,432.7" fill="none" stroke="#000" stroke-width="1.6" stroke-linejoin="round" stroke-linecap="round"/>
<path d="M423.0,434.0 L433.0,434.0" fill="none" stroke="#000" stroke-width="1.2" stroke-linejoin="round" stroke-linecap="round"/>
<g transform="translate(454.5,444.5) rotate(26)"><rect x="0" y="0" width="14" height="9" fill="#111"/></g>
<ellipse cx="471.7" cy="457.6" rx="7.6" ry="9.2" fill="#fff" stroke="#000" stroke-width="1.8"/><path d="M466.5,463 L474,451.5 M469.5,464.5 L477,453" fill="none" stroke="#000" stroke-width="1.3"/>
<path d="M449.2,441.2 L489.3,423.0" fill="none" stroke="#000" stroke-width="1.6" stroke-linejoin="round" stroke-linecap="round"/>
<path d="M478.0,452.0 L500.0,441.0" fill="none" stroke="#000" stroke-width="1.5" stroke-linejoin="round" stroke-linecap="round"/>
<path d="M498.0,391.0 L486.6,409.7" fill="none" stroke="#000" stroke-width="1.2" stroke-linejoin="round" stroke-linecap="round"/>
<path d="M495.8,392.6 C497.5,392.1 502.3,389.9 506.0,389.5 C509.7,389.1 514.9,389.0 518.2,390.0 C521.5,391.0 524.2,392.7 526.0,395.3 C527.8,397.9 528.7,402.4 528.7,405.8 C528.7,409.2 527.3,412.9 526.0,416.0 C524.7,419.1 521.7,422.8 520.8,424.2" fill="none" stroke="#000" stroke-width="1.8" stroke-linejoin="round" stroke-linecap="round"/>
<path d="M491.8,419.0 C491.4,420.8 489.0,426.9 489.2,429.5 C489.4,432.1 490.6,432.8 493.2,434.7 C495.8,436.6 501.1,438.8 505.0,441.0 C508.9,443.2 514.8,446.8 516.8,447.9" fill="none" stroke="#000" stroke-width="1.8" stroke-linejoin="round" stroke-linecap="round"/>
<ellipse cx="507.6" cy="409.7" rx="7.6" ry="11" transform="rotate(20 507.6 409.7)" fill="#fff" stroke="#000" stroke-width="1.8"/>
<path d="M572.1,354.5 C573.8,354.3 578.5,352.9 582.0,353.3 C585.5,353.7 590.5,354.9 593.2,357.1 C595.9,359.3 596.2,363.9 598.4,366.3 C600.6,368.7 603.7,370.0 606.3,371.6 C608.9,373.2 612.5,374.3 614.0,376.0 C615.5,377.7 615.7,379.2 615.5,382.0 C615.3,384.8 615.1,389.1 612.9,392.6 C610.7,396.1 605.2,399.6 602.4,403.2 C599.6,406.8 597.3,410.9 596.0,414.0 C594.7,417.1 596.0,418.3 594.5,421.6 C593.0,424.9 589.4,430.5 587.0,434.0 C584.6,437.5 582.8,439.9 580.0,442.6 C577.2,445.3 573.5,448.0 570.0,450.0 C566.5,452.0 563.6,453.5 558.9,454.5 C554.2,455.5 545.7,456.5 541.8,455.8 C537.9,455.1 537.9,452.0 535.3,450.5 C532.7,449.0 529.1,447.0 526.0,446.6 C522.9,446.2 518.8,448.5 516.8,447.9 C514.8,447.3 514.1,445.1 514.0,443.0 C513.9,440.9 515.3,437.2 516.0,435.0 C516.7,432.8 517.2,432.2 518.2,429.5 C519.2,426.8 520.5,422.3 522.0,419.0 C523.5,415.7 525.2,413.2 527.4,409.7 C529.6,406.2 532.4,401.3 535.0,398.0 C537.6,394.7 541.6,392.6 543.2,390.0 C544.8,387.4 544.3,383.4 544.5,382.1" fill="#fff" stroke="#000" stroke-width="1.9" stroke-linejoin="round" stroke-linecap="round"/>
<path d="M544.5,380.0 L574.7,365.0 L577.4,367.6 L595.8,366.3" fill="none" stroke="#000" stroke-width="1.6" stroke-linejoin="round" stroke-linecap="round"/>
<path d="M532.6,371.6 L544.5,379.5" fill="none" stroke="#000" stroke-width="1.6" stroke-linejoin="round" stroke-linecap="round"/>
<path d="M572.1,354.5 L574.7,363.7" fill="none" stroke="#000" stroke-width="1.6" stroke-linejoin="round" stroke-linecap="round"/>
<ellipse cx="565.5" cy="411.7" rx="24.5" ry="36" transform="rotate(26 565.5 411.7)" fill="#fff" stroke="#000" stroke-width="1.9"/>
<ellipse cx="608.3" cy="386" rx="3.3" ry="4.8" transform="rotate(20 608.3 386)" fill="#111"/><ellipse cx="523.4" cy="438.7" rx="3.3" ry="4.8" transform="rotate(20 523.4 438.7)" fill="#111"/>
<path d="M526.0,447.0 C527.0,447.7 530.2,449.5 532.0,451.0 C533.8,452.5 536.2,455.2 537.0,456.0" fill="none" stroke="#000" stroke-width="2.2" stroke-linejoin="round" stroke-linecap="round"/>
<polyline class="dash" points="582.8,243 582.8,260.4 548.3,282.8"/>
<polyline class="dash" points="393.5,377.4 300.6,426 328.2,439.3"/>
<polyline class="dash" points="481,367 481,499.4 402.6,550"/>
<path fill="#fff" stroke="#000" stroke-width="2.6" stroke-linejoin="round" d="M325,438.4 L335.6,427.8 L343.4,431.1 L354,435 L354,449.5 L343.4,460.6 L334.5,457.3 L325,452.8 Z"/>
<path fill="none" stroke="#000" stroke-width="2.4" stroke-linejoin="round" d="M325,438.4 L333.9,440.6 L343.4,431.1 M333.9,440.6 L334.5,457.3"/>
<ellipse cx="344.5" cy="446.5" rx="6.3" ry="8" fill="#111"/>
<path fill="none" stroke="#fff" stroke-width="0.8" d="M341,449 L346,443 M343,450 L347,445"/>
<path class="w" stroke-width="1.9" d="M331.8,561.4 L336,540.2 L351.6,531.5 L360.7,537.1 L362.2,542.5 L369,553.9 C366,555 366,558 367.5,559.2 L372.1,561.4 L380.4,559.5 L405.5,563 L421,571.3 L421.4,578.2 L389.5,596 L389.5,690 L361.5,714.3 L336,721.6 L314,719.2 L311.7,711.9 C318,704 326,698 333.6,694.9 C340,691 350,688 357,680 C366,668 369,650 367,630 C365,610 355,590 348.2,583.2 C342,576 336,570 331.8,561.4 Z"/>
<path class="k" stroke-width="1.7" d="M331.8,561.4 L387.3,594.1 L421,575.1 M387.3,594.1 L387.3,690 M391.5,598 L421,580 M336.8,694.9 L362.7,711.9"/>
<ellipse cx="351.6" cy="541.3" rx="7" ry="4.4" fill="#222"/><ellipse cx="351.6" cy="541.8" rx="4" ry="2.2" fill="none" stroke="#fff" stroke-width="0.9"/>
<ellipse cx="399" cy="568.7" rx="7.2" ry="4.4" fill="#222"/><ellipse cx="399" cy="569.2" rx="4.2" ry="2.2" fill="none" stroke="#fff" stroke-width="0.9"/>
<path d="M312.5,593.5 C312,596.5 336,597.0 336,593.5" fill="none" stroke="#000" stroke-width="3.3"/><path d="M312.5,597.9 C312,600.9 336,601.4 336,597.9" fill="none" stroke="#000" stroke-width="3.3"/><path d="M312.5,602.3 C312,605.3 336,605.8 336,602.3" fill="none" stroke="#000" stroke-width="3.3"/><path d="M312.5,606.7 C312,609.7 336,610.2 336,606.7" fill="none" stroke="#000" stroke-width="3.3"/><path d="M312.5,611.1 C312,614.1 336,614.6 336,611.1" fill="none" stroke="#000" stroke-width="3.3"/><path d="M312.5,615.5 C312,618.5 336,619.0 336,615.5" fill="none" stroke="#000" stroke-width="3.3"/><path d="M312.5,619.9 C312,622.9 336,623.4 336,619.9" fill="none" stroke="#000" stroke-width="3.3"/><path d="M312.5,624.3 C312,627.3 336,627.8 336,624.3" fill="none" stroke="#000" stroke-width="3.3"/><path d="M312.5,628.7 C312,631.7 336,632.2 336,628.7" fill="none" stroke="#000" stroke-width="3.3"/><path d="M312.5,633.1 C312,636.1 336,636.6 336,633.1" fill="none" stroke="#000" stroke-width="3.3"/><path d="M312.5,637.5 C312,640.5 336,641.0 336,637.5" fill="none" stroke="#000" stroke-width="3.3"/><path d="M312.5,641.9 C312,644.9 336,645.4 336,641.9" fill="none" stroke="#000" stroke-width="3.3"/><path d="M312.5,646.3 C312,649.3 336,649.8 336,646.3" fill="none" stroke="#000" stroke-width="3.3"/><path d="M312.5,650.7 C312,653.7 336,654.2 336,650.7" fill="none" stroke="#000" stroke-width="3.3"/><path d="M312.5,655.1 C312,658.1 336,658.6 336,655.1" fill="none" stroke="#000" stroke-width="3.3"/><path d="M312.5,659.5 C312,662.5 336,663.0 336,659.5" fill="none" stroke="#000" stroke-width="3.3"/><path d="M312.5,663.9 C312,666.9 336,667.4 336,663.9" fill="none" stroke="#000" stroke-width="3.3"/><path d="M312.5,668.3 C312,671.3 336,671.8 336,668.3" fill="none" stroke="#000" stroke-width="3.3"/><path d="M312.5,672.7 C312,675.7 336,676.2 336,672.7" fill="none" stroke="#000" stroke-width="3.3"/><path d="M312.5,677.1 C312,680.1 336,680.6 336,677.1" fill="none" stroke="#000" stroke-width="3.3"/><path d="M312.5,681.5 C312,684.5 336,685.0 336,681.5" fill="none" stroke="#000" stroke-width="3.3"/><path d="M312.5,685.9 C312,688.9 336,689.4 336,685.9" fill="none" stroke="#000" stroke-width="3.3"/>
<path fill="none" stroke="#000" stroke-width="2.4" d="M312,596 L312,686 M336.5,596 L336.5,686"/>
<ellipse cx="324.2" cy="595" rx="11.5" ry="4" fill="#222"/><ellipse cx="324.2" cy="687" rx="11.5" ry="3.5" fill="none" stroke="#000" stroke-width="2.2"/>
<path class="w" stroke-width="1.8" d="M314,723 L314,736 C318,739 330,740 336,736 L336,723 Z"/>
<path class="w" stroke-width="2" d="M316,707 L322,702 L331,703 L335,709 L330,715 L320,715 Z"/><ellipse cx="325.5" cy="708.5" rx="4.5" ry="3.5" fill="#fff" stroke="#000" stroke-width="1.8"/><circle cx="325.5" cy="708.5" r="1.4" fill="#333"/>
<path fill="#fff" stroke="#000" stroke-width="1.9" stroke-linejoin="round" d="M728.0,410.0 C723.8,407.5 710.7,397.9 702.9,395.0 C695.1,392.1 686.9,392.3 681.0,392.5 C675.1,392.7 674.4,392.1 667.8,396.1 C661.2,400.1 649.3,408.9 641.3,416.3 C633.3,423.7 626.0,431.8 620.0,440.7 C614.0,449.6 608.6,460.3 605.0,470.0 C601.4,479.7 599.3,490.7 598.5,499.0 C597.7,507.3 598.4,513.7 600.0,520.0 C601.6,526.3 604.7,532.5 608.0,537.0 C611.3,541.5 614.5,543.8 620.0,547.0 C625.5,550.2 634.2,552.6 641.3,556.5 C648.4,560.4 659.0,568.1 662.5,570.4 L700,500 Z"/>
<ellipse cx="696.2" cy="491.2" rx="56.9" ry="88.6" transform="rotate(28.5 696.2 491.2)" fill="#fff" stroke="#000" stroke-width="2"/>
<ellipse cx="696.6" cy="491.4" rx="55.2" ry="87.1" transform="rotate(28.5 696.6 491.4)" fill="none" stroke="#000" stroke-width="1.1"/>
<ellipse cx="697" cy="491.6" rx="53.5" ry="85.7" transform="rotate(28.5 697 491.6)" fill="none" stroke="#000" stroke-width="1.1"/>

<ellipse cx="699.8" cy="492.8" rx="47.3" ry="80.8" transform="rotate(28.5 699.8 492.8)" fill="none" stroke="#000" stroke-width="2.4"/>
<ellipse cx="679.3" cy="481.3" rx="28.4" ry="43.7" transform="rotate(24 679.3 481.3)" fill="#fff" stroke="#000" stroke-width="1.4"/>
<path d="M677.4,441.8 C678.8,441.5 683.9,439.8 686.0,440.0 C688.1,440.2 689.6,439.9 690.2,443.0 C690.8,446.1 690.9,452.6 689.5,458.8 C688.1,465.0 685.3,473.1 681.7,480.0 C678.1,486.9 673.1,495.2 667.8,500.0 C662.5,504.8 652.8,507.2 649.8,508.7" fill="none" stroke="#000" stroke-width="1.9" stroke-linejoin="round" stroke-linecap="round"/>
<path d="M715.7,419.5 C717.5,422.5 724.2,430.1 726.3,437.5 C728.4,444.9 729.1,456.1 728.4,464.1 C727.7,472.1 724.1,479.4 722.0,485.4 C719.9,491.4 718.5,495.6 715.7,500.0 C712.9,504.4 710.3,506.4 705.0,511.9 C699.7,517.4 690.5,528.4 683.8,533.2 C677.1,538.1 671.2,539.1 665.0,541.0 C658.8,542.9 649.7,544.2 646.6,544.8" fill="none" stroke="#000" stroke-width="1.3" stroke-linejoin="round" stroke-linecap="round"/>
<path d="M730.6,419.5 C732.0,422.5 737.3,429.2 739.1,437.5 C740.9,445.8 742.3,459.0 741.2,469.4 C740.1,479.8 737.0,491.1 732.7,500.0 C728.5,508.9 723.0,514.5 715.7,522.5 C708.4,530.5 696.7,542.6 689.1,548.0 C681.5,553.4 675.3,553.4 670.0,555.0 C664.7,556.6 659.3,557.2 657.2,557.6" fill="none" stroke="#000" stroke-width="1.3" stroke-linejoin="round" stroke-linecap="round"/>
<ellipse cx="718.9" cy="448.2" rx="4.3" ry="5.2" transform="rotate(25 718.9 448.2)" fill="#111"/><ellipse cx="647.1" cy="522.5" rx="4.3" ry="5.4" transform="rotate(25 647.1 522.5)" fill="#111"/>
<g transform="translate(718.9,567.2) rotate(30.5)"><rect x="0" y="-4" width="20.889231675674385" height="8" rx="2" fill="#111"/><ellipse cx="20.889231675674385" cy="0" rx="6.5" ry="8.3" fill="#fff" stroke="#000" stroke-width="1.7"/><circle cx="21.889231675674385" cy="0" r="2.2" fill="none" stroke="#000" stroke-width="1"/></g>
<g transform="translate(783,474.6) rotate(31.5)"><rect x="0" y="-4" width="20.28915966717197" height="8" rx="2" fill="#111"/><ellipse cx="20.28915966717197" cy="0" rx="6.5" ry="8.3" fill="#fff" stroke="#000" stroke-width="1.7"/><circle cx="21.28915966717197" cy="0" r="2.2" fill="none" stroke="#000" stroke-width="1"/></g>
<path fill="#fff" stroke="none" d="M848.9,491.1 C845.5,492.0 835.4,493.0 828.6,496.2 C821.9,499.4 814.6,503.6 808.4,510.4 C802.2,517.1 795.5,526.4 791.2,536.7 C786.9,547.0 784.0,562.3 782.5,572.0 C781.0,581.7 781.4,586.9 782.5,595.0 C783.6,603.1 785.6,612.1 789.1,620.6 C792.6,629.1 798.1,639.6 803.3,645.9 C808.5,652.1 813.8,655.2 820.5,658.1 C827.2,661.0 839.9,662.3 843.8,663.1 L870,620 L900,520 Z"/>
<path fill="#fff" stroke="none" d="M926.6,511.9 C925.1,511.0 921.2,508.1 917.4,506.4 C913.6,504.7 908.2,503.1 903.8,501.9 C899.4,500.7 895.6,499.2 891.0,499.2 C886.4,499.2 881.2,500.4 876.4,501.9 C871.6,503.4 866.7,504.6 862.0,508.0 C857.3,511.4 852.3,516.3 848.0,522.5 C843.7,528.7 839.2,536.2 836.0,545.0 C832.8,553.8 830.3,566.2 829.0,575.0 C827.7,583.8 827.7,590.4 828.0,598.0 C828.3,605.6 829.5,613.8 831.0,620.6 C832.5,627.4 834.7,634.1 836.7,638.8 C838.7,643.5 841.8,647.3 842.8,649.0 L880,600 Z"/>
<path d="M848.9,491.1 C845.5,492.0 835.4,493.0 828.6,496.2 C821.9,499.4 814.6,503.6 808.4,510.4 C802.2,517.1 795.5,526.4 791.2,536.7 C786.9,547.0 784.0,562.3 782.5,572.0 C781.0,581.7 781.4,586.9 782.5,595.0 C783.6,603.1 785.6,612.1 789.1,620.6 C792.6,629.1 798.1,639.6 803.3,645.9 C808.5,652.1 813.8,655.2 820.5,658.1 C827.2,661.0 839.9,662.3 843.8,663.1" fill="none" stroke="#000" stroke-width="1.8" stroke-linejoin="round" stroke-linecap="round"/>
<path d="M848.9,494.2 C846.0,495.0 837.5,496.2 831.6,499.2 C825.7,502.2 819.1,506.1 813.4,512.4 C807.7,518.6 801.4,526.8 797.2,536.7 C793.1,546.6 790.0,562.1 788.5,572.0 C787.0,581.9 787.4,587.9 788.5,596.0 C789.6,604.1 791.9,612.8 795.2,620.6 C798.5,628.4 803.2,637.2 808.4,642.9 C813.6,648.6 820.7,652.0 826.6,655.0 C832.5,658.0 840.9,660.1 843.8,661.1" fill="none" stroke="#000" stroke-width="1.4" stroke-linejoin="round" stroke-linecap="round"/>
<path d="M847.8,496.2 C845.6,497.1 839.9,498.3 834.7,501.3 C829.5,504.3 822.2,508.2 816.5,514.4 C810.8,520.6 804.2,529.1 800.3,538.7 C796.4,548.3 794.2,562.1 793.0,572.0 C791.8,581.9 791.8,589.6 793.0,598.0 C794.2,606.4 796.7,615.1 800.3,622.6 C803.9,630.1 809.3,637.7 814.4,642.9 C819.5,648.1 825.7,651.5 830.6,654.0 C835.5,656.5 841.6,657.4 843.8,658.1" fill="none" stroke="#000" stroke-width="1.4" stroke-linejoin="round" stroke-linecap="round"/>
<path d="M846.8,497.2 C844.8,498.6 839.1,501.4 834.7,505.3 C830.3,509.2 824.9,514.2 820.5,520.5 C816.1,526.8 811.6,533.7 808.4,542.8 C805.1,551.9 802.4,565.8 801.0,575.0 C799.6,584.2 799.7,591.0 800.0,598.0 C800.3,605.0 801.1,610.9 803.0,617.0 C804.9,623.1 807.5,629.5 811.4,634.8 C815.3,640.1 821.4,645.6 826.6,649.0 C831.8,652.4 840.1,654.0 842.8,655.0" fill="none" stroke="#000" stroke-width="1.5" stroke-linejoin="round" stroke-linecap="round"/>
<path d="M861.0,501.3 C859.0,502.3 853.3,503.8 848.9,507.3 C844.5,510.8 839.1,516.6 834.7,522.5 C830.3,528.4 825.7,534.0 822.5,542.8 C819.3,551.5 816.8,565.8 815.5,575.0 C814.2,584.2 814.6,590.5 815.0,598.0 C815.4,605.5 816.2,613.2 818.0,620.0 C819.8,626.8 821.9,633.3 826.0,638.8 C830.1,644.3 840.0,650.6 842.8,653.0" fill="none" stroke="#000" stroke-width="1.5" stroke-linejoin="round" stroke-linecap="round"/>
<path d="M926.6,511.9 C925.1,511.0 921.2,508.1 917.4,506.4 C913.6,504.7 908.2,503.1 903.8,501.9 C899.4,500.7 895.6,499.2 891.0,499.2 C886.4,499.2 881.2,500.4 876.4,501.9 C871.6,503.4 866.7,504.6 862.0,508.0 C857.3,511.4 852.3,516.3 848.0,522.5 C843.7,528.7 839.2,536.2 836.0,545.0 C832.8,553.8 830.3,566.2 829.0,575.0 C827.7,583.8 827.7,590.4 828.0,598.0 C828.3,605.6 829.5,613.8 831.0,620.6 C832.5,627.4 834.7,634.1 836.7,638.8 C838.7,643.5 841.8,647.3 842.8,649.0" fill="none" stroke="#000" stroke-width="1.6" stroke-linejoin="round" stroke-linecap="round"/>
<path d="M903.0,504.0 C901.0,503.7 895.4,502.2 891.0,502.3 C886.6,502.4 880.9,503.3 876.4,504.6 C871.9,505.9 868.2,506.8 864.0,510.0 C859.8,513.2 855.0,518.0 851.0,524.0 C847.0,530.0 843.0,537.5 840.0,546.0 C837.0,554.5 834.3,566.3 833.0,575.0 C831.7,583.7 831.7,590.5 832.0,598.0 C832.3,605.5 833.5,613.8 835.0,620.0 C836.5,626.2 839.5,630.8 840.8,635.0 C842.1,639.2 842.6,643.3 843.0,645.0" fill="none" stroke="#000" stroke-width="1.3" stroke-linejoin="round" stroke-linecap="round"/>
<path fill="none" stroke="#000" stroke-width="1.2" d="M837.8,502.9 L851.5,505.5 M833.7,506.2 L847.4,508.6 M829.8,509.8 L843.6,512.1 M826.1,513.7 L840.1,515.9 M822.6,517.7 L836.7,519.9 M819.5,522.0 L833.6,524.0 M816.5,526.4 L830.5,528.1 M813.8,531.0 L827.6,532.4 M811.3,535.7 L825.1,536.9 M809.2,540.6 L822.9,541.7 M807.5,545.6 L821.3,546.6 M806.0,550.7 L819.9,551.6 M804.7,555.9 L818.7,556.6 M803.5,561.1 L817.7,561.7 M802.5,566.3 L816.8,566.8 M801.6,571.6 L815.9,571.9 M800.7,576.8 L815.2,577.0 M800.2,582.1 L814.8,582.2 M799.8,587.4 L814.6,587.4 M799.8,592.7 L814.7,592.5"/>
<path class="w" stroke-width="1.8" d="M854.6,486.4 L867.3,481.8 L882.8,481.4 C886,483 888,485 888.3,488.2 L889.7,497.3 L862,501 C858,500 854,496 854.6,486.4 Z"/>
<path fill="none" stroke="#000" stroke-width="1.3" d="M857,487 C860,490 862,495 861,500 M860.5,485 C864,489 866,494 865,499.5 M864,484 C868,488 869,494 868.5,499"/>
<ellipse cx="851" cy="496.5" rx="5.5" ry="6.5" transform="rotate(-30 851 496.5)" fill="#fff" stroke="#000" stroke-width="1.6"/><ellipse cx="851" cy="497.5" rx="2.5" ry="3.3" transform="rotate(-30 851 497.5)" fill="#222"/>
<path d="M1139,965 L1144,979 C1150,982 1160,981 1170,977 L1197,965 Z" fill="#fff" stroke="#000" stroke-width="1.6" stroke-linejoin="round"/>
<path d="M927,512 C935,506 945,502 955,500.5 C965,500 975,501 982,503 L1042.6,534.7 L1130,589.3 C1170,615 1205,645 1236,680 C1258,703 1277,728 1292,758 C1305,785 1314,815 1316.6,840 C1318,858 1317,866 1315.1,874.4 C1312,888 1307,897 1299.9,904.7 C1290,915 1280,919 1270,925 C1260,931 1252,936 1242.2,941.2 C1225,950 1210,957 1193.6,962.4 C1180,966 1165,968.5 1151.1,968.5 C1135,968.5 1118,969 1105.5,965.5 C1093,961 1084,955 1078.2,947.2 C1072,938 1068,928 1066.1,916.9 C1064,908 1062,900 1060,892.6 L1055,865 C1050,848 1046,838 1041.6,833 C1035,826 1020,818 1010,816.2 L876.4,738.5 C868,733 860,727 857,719 C851,710 848,700 847.3,692.3 L843.6,648.6 L842.4,600 C842,585 845,570 857.3,556 C868,546 880,539 890.1,535.6 C905,528 916,519 927,512 Z" fill="#fff" stroke="#000" stroke-width="2.1" stroke-linejoin="round"/>
<path class="t" stroke-width="1.7" d="M948.4,505.8 C1000,535 1070,575 1107,600 C1140,622 1165,645 1184.7,666.8"/>
<path class="t" stroke-width="1.7" d="M890.7,537.7 C930,560 970,585 1005.2,600 C1035,618 1060,632 1082.9,648.6 C1100,662 1120,680 1133.9,697.2"/>
<path class="t" stroke-width="1.7" d="M843.6,626.7 C860,633 875,640 888.6,648.6 C915,664 940,678 961.4,692.3 C985,708 1010,724 1034.3,740.9 C1050,752 1065,768 1076.8,779.7 C1100,795 1150,825 1181.5,834.9 C1210,850 1240,865 1272.6,882 C1285,885 1298,884 1303,880.4 C1312,872 1316,860 1315,850 C1313,835 1308,825 1303,816.7 C1293,805 1283,795 1272.6,789.3 L1251.3,777.2"/>
<path class="t" stroke-width="1.7" d="M847.3,697.2 L1048.9,811.3 C1052,820 1054,830 1056.2,840 L1062,870 L1072,915 C1075,930 1080,940 1090,947 C1110,958 1135,962 1151,963"/>
<path class="t" stroke-width="1.7" d="M1132.9,708.8 C1115,720 1105,730 1096.4,740.7 C1088,752 1082,765 1078.2,777.2 C1077,800 1079,830 1081.3,862.2 L1090.4,944.2"/>
<path class="t" stroke-width="1.7" d="M1260.4,777.2 C1266,790 1269,805 1269.5,816.7 C1270,835 1270,850 1269.5,862.2 C1265,878 1258,890 1248.3,898.6 C1235,912 1220,922 1205.8,929 C1190,937 1170,943 1151.1,947.2 C1130,950 1110,949 1090.4,947.2 C1082,946 1076,944 1072.1,941.2"/>
<path class="t" stroke-width="1.7" d="M1242,692 C1258,710 1272,730 1285,760 C1298,790 1307,815 1312,838"/>
<ellipse cx="1202" cy="727" rx="71" ry="55" transform="rotate(22 1202 727)" fill="#fff" stroke="#000" stroke-width="1.4"/>
<ellipse cx="1203" cy="724" rx="57" ry="45" transform="rotate(18 1203 724)" fill="#fff" stroke="#000" stroke-width="2.2"/>
<ellipse cx="1203" cy="725" rx="52" ry="40" transform="rotate(18 1203 725)" fill="none" stroke="#000" stroke-width="1.1"/>
<ellipse cx="1204" cy="726" rx="44" ry="34" transform="rotate(18 1204 726)" fill="none" stroke="#000" stroke-width="1.1"/>
<ellipse cx="1202" cy="730" rx="33" ry="25" transform="rotate(18 1202 730)" fill="none" stroke="#000" stroke-width="1.1"/>
<ellipse cx="1201" cy="732" rx="26" ry="19" transform="rotate(15 1201 732)" fill="none" stroke="#000" stroke-width="1.1"/>
<ellipse cx="1200" cy="734" rx="23" ry="16.5" transform="rotate(15 1200 734)" fill="#fff" stroke="#000" stroke-width="2.3"/>
<path d="M1131.5,32.3 L1238,96.2 1238.0,96.2 C1235.3,97.1 1227.2,99.6 1222.0,101.5 C1216.8,103.4 1213.8,104.1 1206.8,107.8 C1199.8,111.5 1187.1,116.8 1180.1,123.4 C1173.1,130.0 1169.9,139.3 1165.0,147.3 C1160.1,155.3 1154.6,164.0 1150.7,171.6 C1146.8,179.2 1143.9,185.8 1141.6,192.9 C1139.3,200.0 1137.6,207.0 1137.1,214.1 C1136.6,221.2 1137.3,228.8 1138.6,235.4 C1139.9,242.0 1142.7,249.1 1144.7,253.6 C1146.7,258.1 1149.7,261.2 1150.7,262.7 L1080.9,223.2 L1080.9,223.2 C1074.6,219.4 1052.2,206.4 1043.0,200.5 C1033.8,194.6 1030.3,192.8 1026.0,188.0 C1021.7,183.2 1019.0,178.3 1017.0,172.0 C1015.0,165.7 1014.0,157.8 1014.0,150.0 C1014.0,142.2 1015.2,133.0 1017.0,125.0 C1018.8,117.0 1021.7,109.5 1025.0,102.0 C1028.3,94.5 1031.9,87.4 1037.0,80.0 C1042.1,72.6 1048.2,64.9 1055.5,57.6 C1062.8,50.3 1074.2,40.9 1080.9,36.3 C1087.7,31.6 1091.0,31.1 1096.0,29.7 C1101.0,28.3 1107.0,27.9 1111.2,27.7 C1115.4,27.5 1117.9,27.9 1121.3,28.7 C1124.7,29.5 1129.8,31.7 1131.5,32.3 Z" fill="url(#foam)" stroke="#000" stroke-width="1.5" stroke-linejoin="round"/>
<path d="M1026.0,188.0 C1024.5,185.3 1019.0,178.3 1017.0,172.0 C1015.0,165.7 1014.0,157.8 1014.0,150.0 C1014.0,142.2 1015.2,133.0 1017.0,125.0 C1018.8,117.0 1021.7,109.5 1025.0,102.0 C1028.3,94.5 1031.9,87.4 1037.0,80.0 C1042.1,72.6 1048.2,64.9 1055.5,57.6 C1062.8,50.3 1074.2,40.9 1080.9,36.3 C1087.7,31.6 1091.0,31.1 1096.0,29.7 C1101.0,28.3 1107.0,27.9 1111.2,27.7 C1115.4,27.5 1117.9,27.9 1121.3,28.7 C1124.7,29.5 1129.8,31.7 1131.5,32.3" fill="none" stroke="#000" stroke-width="2.4"/>
<path fill="none" stroke="#000" stroke-width="1.5" d="M1079.2,46 L1192.2,110.4 M1080.6,46.9 L1089.6,47.7 M1082.6,47.9 L1079.1,51.4 M1088.7,51.5 L1097.7,52.3 M1090.7,52.5 L1087.2,56.0 M1096.8,56.1 L1105.8,56.9 M1098.8,57.1 L1095.3,60.6 M1104.8,60.7 L1113.8,61.5 M1106.8,61.7 L1103.3,65.2 M1112.9,65.3 L1121.9,66.1 M1114.9,66.3 L1111.4,69.8 M1121.0,69.9 L1130.0,70.7 M1123.0,70.9 L1119.5,74.4 M1129.0,74.5 L1138.0,75.3 M1131.0,75.5 L1127.5,79.0 M1137.1,79.1 L1146.1,79.9 M1139.1,80.1 L1135.6,83.6 M1145.2,83.7 L1154.2,84.5 M1147.2,84.7 L1143.7,88.2 M1153.3,88.3 L1162.3,89.1 M1155.3,89.3 L1151.8,92.8 M1161.3,92.9 L1170.3,93.7 M1163.3,93.9 L1159.8,97.4 M1169.4,97.5 L1178.4,98.3 M1171.4,98.5 L1167.9,102.0 M1177.5,102.1 L1186.5,102.9 M1179.5,103.1 L1176.0,106.6 M1185.5,106.7 L1194.5,107.5 M1187.5,107.7 L1184.0,111.2"/>
<path d="M1238,96.2 L1309.3,137.9 L1320,139 L1377,206 L1296,305 L1285.8,301.1 C1270,298 1255,294 1242,293.9 C1230,296 1220,298 1213,297.5 C1205,296 1200,292 1195.9,289 L1150.7,262.7 L1150.7,262.7 C1149.7,261.2 1146.7,258.1 1144.7,253.6 C1142.7,249.1 1139.9,242.0 1138.6,235.4 C1137.3,228.8 1136.6,221.2 1137.1,214.1 C1137.6,207.0 1139.3,200.0 1141.6,192.9 C1143.9,185.8 1146.8,179.2 1150.7,171.6 C1154.6,164.0 1160.1,155.3 1165.0,147.3 C1169.9,139.3 1173.1,130.0 1180.1,123.4 C1187.1,116.8 1199.8,111.5 1206.8,107.8 C1213.8,104.1 1216.8,103.4 1222.0,101.5 C1227.2,99.6 1235.3,97.1 1238.0,96.2 Z" fill="#fff" stroke="none"/>
<path class="k" stroke-width="1.6" d="M1238,96.7 L1309.3,137.9 M1148,258 L1189,288.3 C1198,293 1205,297 1213.5,297.2 C1220,297 1228,293 1235.8,292.7 C1250,293 1265,297 1296,304"/>
<path class="k" stroke-width="1.6" d="M1238.0,96.2 C1235.3,97.1 1227.2,99.6 1222.0,101.5 C1216.8,103.4 1213.8,104.1 1206.8,107.8 C1199.8,111.5 1187.1,116.8 1180.1,123.4 C1173.1,130.0 1169.9,139.3 1165.0,147.3 C1160.1,155.3 1154.6,164.0 1150.7,171.6 C1146.8,179.2 1143.9,185.8 1141.6,192.9 C1139.3,200.0 1137.6,207.0 1137.1,214.1 C1136.6,221.2 1137.3,228.8 1138.6,235.4 C1139.9,242.0 1142.7,249.1 1144.7,253.6 C1146.7,258.1 1149.7,261.2 1150.7,262.7"/>
<path d="M1193.8,290.4 L1192.6,289.4 L1191.5,288.4 L1190.4,287.4 L1189.3,286.2 L1188.3,285.1 L1187.3,283.9 L1186.4,282.6 L1185.5,281.3 L1184.6,279.9 L1183.8,278.5 L1183.0,277.0 L1182.3,275.5 L1181.6,274.0 L1181.0,272.4 L1180.4,270.7 L1179.8,269.0 L1179.3,267.3 L1178.8,265.6 L1178.4,263.7 L1178.1,261.9 L1177.7,260.0 L1177.5,258.1 L1177.2,256.2 L1177.0,254.2 L1176.9,252.2 L1176.8,250.2 L1176.8,248.1 L1176.8,246.0 L1176.8,243.9 L1177.0,241.7 L1177.1,239.6 L1177.3,237.4 L1177.5,235.2 L1177.8,233.0 L1178.2,230.7 L1178.6,228.5 L1179.0,226.2 L1179.5,224.0 L1180.0,221.7 L1180.6,219.4 L1181.2,217.1 L1181.8,214.8 L1182.5,212.5 L1183.3,210.1 L1184.1,207.8 L1184.9,205.5 L1185.8,203.2 L1186.7,200.9 L1187.6,198.6 L1188.6,196.3 L1189.7,194.0 L1190.7,191.8 L1191.9,189.5 L1193.0,187.3 L1194.2,185.0 L1195.4,182.8 L1196.7,180.6 L1198.0,178.5 L1199.3,176.3 L1200.6,174.2 L1202.0,172.1 L1203.4,170.0 L1204.9,167.9 L1206.3,165.9 L1207.8,163.9 L1209.4,161.9 L1210.9,160.0 L1212.5,158.1 L1214.1,156.2 L1215.7,154.4 L1217.4,152.6 L1219.0,150.9 L1220.7,149.2 L1222.4,147.5 L1224.1,145.9 L1225.8,144.3 L1227.6,142.7 L1229.3,141.2 L1231.1,139.8 L1232.9,138.4 L1234.7,137.0 L1236.5,135.7 L1238.3,134.5 L1240.1,133.3 L1241.9,132.2 L1243.7,131.1 L1245.5,130.0 L1247.3,129.0 L1249.1,128.1 L1250.9,127.2 L1252.8,126.4 L1254.6,125.6 L1256.4,124.9 L1258.1,124.3 L1259.9,123.7 L1261.7,123.2 L1263.5,122.7 L1265.2,122.3 L1267.0,121.9 L1268.7,121.7 L1270.4,121.4 L1272.1,121.3 L1273.7,121.1 L1275.4,121.1 L1277.0,121.1 L1278.6,121.2 L1280.2,121.3 L1281.8,121.5 L1283.4,121.8" fill="none" stroke="#000" stroke-width="1.5" stroke-linejoin="round" clip-path="url(#pb)"/>
<path d="M1197.5,289.8 L1196.4,288.8 L1195.4,287.8 L1194.4,286.7 L1193.4,285.6 L1192.5,284.4 L1191.6,283.2 L1190.8,281.9 L1190.0,280.6 L1189.3,279.2 L1188.5,277.8 L1187.9,276.3 L1187.3,274.8 L1186.7,273.3 L1186.1,271.7 L1185.6,270.0 L1185.2,268.3 L1184.8,266.6 L1184.4,264.9 L1184.1,263.1 L1183.8,261.3 L1183.6,259.4 L1183.4,257.5 L1183.3,255.6 L1183.2,253.6 L1183.2,251.7 L1183.2,249.7 L1183.2,247.6 L1183.3,245.6 L1183.5,243.5 L1183.7,241.4 L1183.9,239.3 L1184.2,237.1 L1184.5,235.0 L1184.9,232.8 L1185.3,230.6 L1185.8,228.4 L1186.3,226.2 L1186.8,224.0 L1187.4,221.8 L1188.1,219.5 L1188.7,217.3 L1189.5,215.0 L1190.2,212.8 L1191.0,210.5 L1191.9,208.3 L1192.8,206.1 L1193.7,203.8 L1194.6,201.6 L1195.7,199.4 L1196.7,197.1 L1197.8,194.9 L1198.9,192.7 L1200.0,190.5 L1201.2,188.4 L1202.4,186.2 L1203.7,184.1 L1205.0,182.0 L1206.3,179.9 L1207.6,177.8 L1209.0,175.8 L1210.4,173.7 L1211.8,171.7 L1213.3,169.8 L1214.8,167.8 L1216.3,165.9 L1217.8,164.0 L1219.4,162.2 L1220.9,160.4 L1222.5,158.6 L1224.1,156.9 L1225.8,155.2 L1227.4,153.5 L1229.1,151.9 L1230.8,150.3 L1232.4,148.7 L1234.2,147.2 L1235.9,145.8 L1237.6,144.4 L1239.3,143.0 L1241.1,141.7 L1242.8,140.4 L1244.6,139.2 L1246.3,138.1 L1248.1,136.9 L1249.9,135.9 L1251.6,134.9 L1253.4,133.9 L1255.1,133.0 L1256.9,132.2 L1258.6,131.4 L1260.4,130.6 L1262.1,129.9 L1263.9,129.3 L1265.6,128.7 L1267.3,128.2 L1269.0,127.8 L1270.7,127.3 L1272.4,127.0 L1274.0,126.7 L1275.7,126.5 L1277.3,126.3 L1278.9,126.2 L1280.5,126.2 L1282.1,126.2 L1283.6,126.2 L1285.1,126.4" fill="none" stroke="#000" stroke-width="1.3" stroke-linejoin="round" clip-path="url(#pb)"/>
<path d="M1203.2,290.9 L1202.2,290.0 L1201.2,289.1 L1200.2,288.1 L1199.3,287.0 L1198.4,285.9 L1197.6,284.8 L1196.8,283.6 L1196.0,282.4 L1195.3,281.1 L1194.6,279.7 L1193.9,278.4 L1193.3,276.9 L1192.8,275.5 L1192.2,274.0 L1191.8,272.4 L1191.3,270.8 L1190.9,269.2 L1190.6,267.6 L1190.3,265.9 L1190.0,264.1 L1189.8,262.4 L1189.7,260.6 L1189.5,258.7 L1189.5,256.9 L1189.4,255.0 L1189.4,253.1 L1189.5,251.1 L1189.6,249.1 L1189.7,247.1 L1189.9,245.1 L1190.2,243.1 L1190.4,241.0 L1190.8,239.0 L1191.1,236.9 L1191.5,234.8 L1192.0,232.6 L1192.5,230.5 L1193.0,228.4 L1193.6,226.2 L1194.2,224.0 L1194.9,221.9 L1195.6,219.7 L1196.3,217.5 L1197.1,215.3 L1198.0,213.2 L1198.8,211.0 L1199.7,208.8 L1200.7,206.6 L1201.6,204.5 L1202.7,202.3 L1203.7,200.1 L1204.8,198.0 L1205.9,195.9 L1207.1,193.8 L1208.3,191.6 L1209.5,189.6 L1210.7,187.5 L1212.0,185.4 L1213.3,183.4 L1214.6,181.4 L1216.0,179.4 L1217.4,177.4 L1218.8,175.5 L1220.3,173.6 L1221.7,171.7 L1223.2,169.8 L1224.7,168.0 L1226.2,166.2 L1227.8,164.5 L1229.4,162.7 L1230.9,161.0 L1232.5,159.4 L1234.2,157.8 L1235.8,156.2 L1237.4,154.7 L1239.1,153.2 L1240.8,151.7 L1242.4,150.3 L1244.1,148.9 L1245.8,147.6 L1247.5,146.3 L1249.2,145.1 L1250.9,143.9 L1252.6,142.8 L1254.3,141.7 L1256.1,140.7 L1257.8,139.7 L1259.5,138.8 L1261.2,137.9 L1262.9,137.0 L1264.6,136.3 L1266.3,135.6 L1267.9,134.9 L1269.6,134.3 L1271.3,133.7 L1272.9,133.2 L1274.6,132.8 L1276.2,132.4 L1277.8,132.0 L1279.4,131.8 L1281.0,131.5 L1282.5,131.4 L1284.1,131.3 L1285.6,131.2 L1287.1,131.2" fill="none" stroke="#000" stroke-width="1.3" stroke-linejoin="round" clip-path="url(#pb)"/>
<path d="M1214.0,295.1 L1212.8,294.5 L1211.7,293.9 L1210.6,293.3 L1209.5,292.5 L1208.5,291.8 L1207.5,291.0 L1206.5,290.1 L1205.6,289.2 L1204.7,288.2 L1203.9,287.2 L1203.1,286.1 L1202.3,285.0 L1201.6,283.9 L1200.9,282.7 L1200.2,281.4 L1199.6,280.1 L1199.1,278.8 L1198.5,277.4 L1198.0,276.0 L1197.6,274.6 L1197.2,273.1 L1196.8,271.5 L1196.5,269.9 L1196.2,268.3 L1196.0,266.7 L1195.8,265.0 L1195.7,263.3 L1195.6,261.6 L1195.5,259.8 L1195.5,258.0 L1195.5,256.2 L1195.6,254.3 L1195.7,252.4 L1195.8,250.5 L1196.0,248.6 L1196.3,246.6 L1196.6,244.7 L1196.9,242.7 L1197.3,240.7 L1197.7,238.6 L1198.2,236.6 L1198.7,234.5 L1199.2,232.5 L1199.8,230.4 L1200.4,228.3 L1201.1,226.2 L1201.8,224.1 L1202.5,222.0 L1203.3,219.9 L1204.1,217.8 L1205.0,215.7 L1205.9,213.6 L1206.8,211.5 L1207.8,209.4 L1208.8,207.3 L1209.8,205.2 L1210.9,203.1 L1212.0,201.0 L1213.1,199.0 L1214.3,196.9 L1215.5,194.9 L1216.7,192.9 L1217.9,190.9 L1219.2,188.9 L1220.5,186.9 L1221.9,185.0 L1223.2,183.1 L1224.6,181.2 L1226.0,179.3 L1227.5,177.4 L1228.9,175.6 L1230.4,173.8 L1231.9,172.1 L1233.4,170.3 L1234.9,168.6 L1236.5,167.0 L1238.1,165.3 L1239.6,163.7 L1241.2,162.2 L1242.8,160.6 L1244.5,159.2 L1246.1,157.7 L1247.7,156.3 L1249.4,155.0 L1251.0,153.6 L1252.7,152.4 L1254.3,151.1 L1256.0,149.9 L1257.6,148.8 L1259.3,147.7 L1261.0,146.7 L1262.6,145.7 L1264.3,144.7 L1266.0,143.8 L1267.6,143.0 L1269.3,142.2 L1270.9,141.4 L1272.5,140.7 L1274.2,140.1 L1275.8,139.5 L1277.4,138.9 L1279.0,138.5 L1280.5,138.0 L1282.1,137.7 L1283.6,137.3 L1285.2,137.1 L1286.7,136.9 L1288.2,136.7 L1289.6,136.6" fill="none" stroke="#000" stroke-width="1.5" stroke-linejoin="round" clip-path="url(#pb)"/>
<ellipse cx="1311.3" cy="222.7" rx="67" ry="85.8" transform="rotate(8 1311.3 222.7)" fill="#fff" stroke="#000" stroke-width="1.9"/>
<ellipse cx="1313.2" cy="223.3" rx="61.5" ry="82" transform="rotate(9 1313.2 223.3)" fill="none" stroke="#000" stroke-width="1.2"/>
<ellipse cx="1315.2" cy="223.9" rx="56.2" ry="78.2" transform="rotate(10.3 1315.2 223.9)" fill="#fff" stroke="#000" stroke-width="1.9"/>
<path d="M1290.8,155.0 C1291.7,156.3 1294.0,159.2 1296.0,163.0 C1298.0,166.8 1301.4,171.7 1302.9,178.0 C1304.4,184.3 1305.6,193.1 1305.0,201.0 C1304.4,208.9 1303.2,217.2 1299.5,225.3 C1295.8,233.4 1288.8,243.5 1283.0,249.6 C1277.2,255.7 1267.5,259.9 1264.4,262.0" fill="none" stroke="#000" stroke-width="1.3" stroke-linejoin="round" stroke-linecap="round"/>
<path d="M1295.0,154.0 C1296.0,155.3 1299.0,157.5 1301.0,162.0 C1303.0,166.5 1305.9,173.6 1307.0,180.8 C1308.1,188.0 1308.2,197.5 1307.5,205.0 C1306.8,212.5 1305.6,219.3 1303.0,226.0 C1300.4,232.7 1297.8,238.3 1292.0,245.0 C1286.2,251.7 1272.4,262.5 1268.5,266.0" fill="none" stroke="#000" stroke-width="1.3" stroke-linejoin="round" stroke-linecap="round"/>
</svg></body></html>
